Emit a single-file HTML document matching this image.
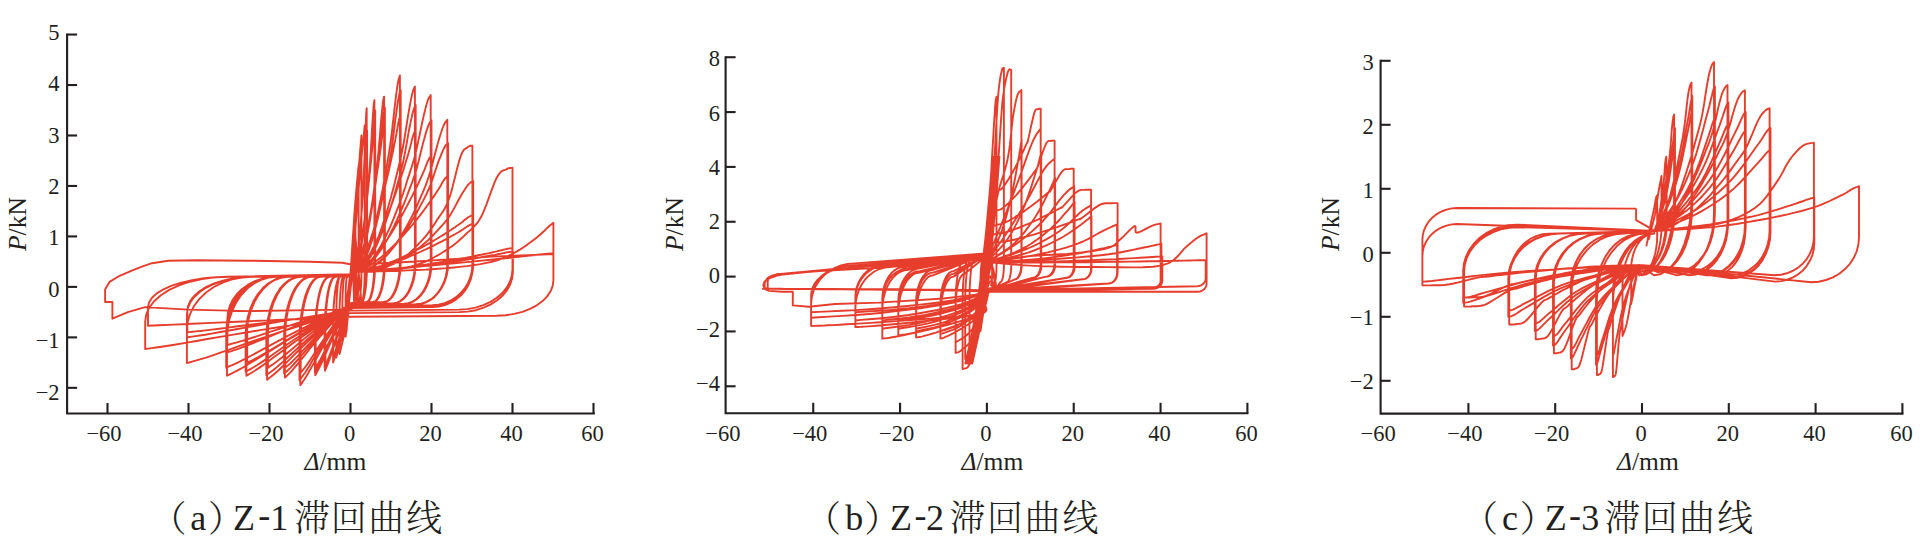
<!DOCTYPE html>
<html><head><meta charset="utf-8"><style>
html,body{margin:0;padding:0;background:#fff;}
svg{display:block;}
.tl{font-family:"Liberation Serif", "Times New Roman", serif;font-size:22.5px;fill:#231f20;}
.al{font-family:"Liberation Serif", "Times New Roman", serif;font-size:25.5px;fill:#231f20;}
.cap{font-family:"Liberation Serif",serif;font-size:36px;fill:#231f20;}
.cjk{font-family:"Liberation Serif","Noto Serif CJK SC",serif;font-size:36px;font-weight:300;fill:#231f20;}
</style></head><body>
<svg width="1924" height="557" viewBox="0 0 1924 557">
<rect width="1924" height="557" fill="#fff"/>
<path d="M67.10,33.45V413.50H594.85" fill="none" stroke="#231f20" stroke-width="2.1" stroke-linejoin="miter" stroke-linecap="butt"/>
<path d="M67.10,34.55H77.10" stroke="#231f20" stroke-width="2.1"/>
<text x="59.60" y="39.70" text-anchor="end" class="tl">5</text>
<path d="M67.10,85.02H77.10" stroke="#231f20" stroke-width="2.1"/>
<text x="59.60" y="91.10" text-anchor="end" class="tl">4</text>
<path d="M67.10,135.49H77.10" stroke="#231f20" stroke-width="2.1"/>
<text x="59.60" y="142.50" text-anchor="end" class="tl">3</text>
<path d="M67.10,185.96H77.10" stroke="#231f20" stroke-width="2.1"/>
<text x="59.60" y="193.90" text-anchor="end" class="tl">2</text>
<path d="M67.10,236.43H77.10" stroke="#231f20" stroke-width="2.1"/>
<text x="59.60" y="245.30" text-anchor="end" class="tl">1</text>
<path d="M67.10,286.90H77.10" stroke="#231f20" stroke-width="2.1"/>
<text x="59.60" y="296.70" text-anchor="end" class="tl">0</text>
<path d="M67.10,337.37H77.10" stroke="#231f20" stroke-width="2.1"/>
<text x="59.60" y="348.10" text-anchor="end" class="tl">−1</text>
<path d="M67.10,387.84H77.10" stroke="#231f20" stroke-width="2.1"/>
<text x="59.60" y="399.50" text-anchor="end" class="tl">−2</text>
<path d="M107.50,413.50V403.00" stroke="#231f20" stroke-width="2.1"/>
<text x="104.00" y="441.00" text-anchor="middle" class="tl">−60</text>
<path d="M188.50,413.50V403.00" stroke="#231f20" stroke-width="2.1"/>
<text x="185.00" y="441.00" text-anchor="middle" class="tl">−40</text>
<path d="M269.50,413.50V403.00" stroke="#231f20" stroke-width="2.1"/>
<text x="266.00" y="441.00" text-anchor="middle" class="tl">−20</text>
<path d="M350.50,413.50V403.00" stroke="#231f20" stroke-width="2.1"/>
<text x="349.50" y="441.00" text-anchor="middle" class="tl">0</text>
<path d="M431.50,413.50V403.00" stroke="#231f20" stroke-width="2.1"/>
<text x="430.50" y="441.00" text-anchor="middle" class="tl">20</text>
<path d="M512.50,413.50V403.00" stroke="#231f20" stroke-width="2.1"/>
<text x="511.50" y="441.00" text-anchor="middle" class="tl">40</text>
<path d="M593.50,413.50V403.00" stroke="#231f20" stroke-width="2.1"/>
<text x="592.50" y="441.00" text-anchor="middle" class="tl">60</text>
<path d="M725.60,56.25V413.30H1248.45" fill="none" stroke="#231f20" stroke-width="2.1" stroke-linejoin="miter" stroke-linecap="butt"/>
<path d="M725.60,57.24H735.60" stroke="#231f20" stroke-width="2.1"/>
<text x="720.00" y="66.40" text-anchor="end" class="tl">8</text>
<path d="M725.60,112.08H735.60" stroke="#231f20" stroke-width="2.1"/>
<text x="720.00" y="120.50" text-anchor="end" class="tl">6</text>
<path d="M725.60,166.92H735.60" stroke="#231f20" stroke-width="2.1"/>
<text x="720.00" y="174.60" text-anchor="end" class="tl">4</text>
<path d="M725.60,221.76H735.60" stroke="#231f20" stroke-width="2.1"/>
<text x="720.00" y="228.70" text-anchor="end" class="tl">2</text>
<path d="M725.60,276.60H735.60" stroke="#231f20" stroke-width="2.1"/>
<text x="720.00" y="282.80" text-anchor="end" class="tl">0</text>
<path d="M725.60,331.44H735.60" stroke="#231f20" stroke-width="2.1"/>
<text x="720.00" y="336.90" text-anchor="end" class="tl">−2</text>
<path d="M725.60,386.28H735.60" stroke="#231f20" stroke-width="2.1"/>
<text x="720.00" y="391.00" text-anchor="end" class="tl">−4</text>
<text x="722.91" y="440.80" text-anchor="middle" class="tl">−60</text>
<path d="M813.24,413.30V402.80" stroke="#231f20" stroke-width="2.1"/>
<text x="809.74" y="440.80" text-anchor="middle" class="tl">−40</text>
<path d="M900.07,413.30V402.80" stroke="#231f20" stroke-width="2.1"/>
<text x="896.57" y="440.80" text-anchor="middle" class="tl">−20</text>
<path d="M986.90,413.30V402.80" stroke="#231f20" stroke-width="2.1"/>
<text x="985.90" y="440.80" text-anchor="middle" class="tl">0</text>
<path d="M1073.73,413.30V402.80" stroke="#231f20" stroke-width="2.1"/>
<text x="1072.73" y="440.80" text-anchor="middle" class="tl">20</text>
<path d="M1160.56,413.30V402.80" stroke="#231f20" stroke-width="2.1"/>
<text x="1159.56" y="440.80" text-anchor="middle" class="tl">40</text>
<path d="M1247.39,413.30V402.80" stroke="#231f20" stroke-width="2.1"/>
<text x="1246.39" y="440.80" text-anchor="middle" class="tl">60</text>
<path d="M1380.60,59.75V413.60H1903.45" fill="none" stroke="#231f20" stroke-width="2.1" stroke-linejoin="miter" stroke-linecap="butt"/>
<path d="M1380.60,60.80H1390.60" stroke="#231f20" stroke-width="2.1"/>
<text x="1373.80" y="69.70" text-anchor="end" class="tl">3</text>
<path d="M1380.60,124.80H1390.60" stroke="#231f20" stroke-width="2.1"/>
<text x="1373.80" y="133.64" text-anchor="end" class="tl">2</text>
<path d="M1380.60,188.80H1390.60" stroke="#231f20" stroke-width="2.1"/>
<text x="1373.80" y="197.58" text-anchor="end" class="tl">1</text>
<path d="M1380.60,252.80H1390.60" stroke="#231f20" stroke-width="2.1"/>
<text x="1373.80" y="261.52" text-anchor="end" class="tl">0</text>
<path d="M1380.60,316.80H1390.60" stroke="#231f20" stroke-width="2.1"/>
<text x="1373.80" y="325.46" text-anchor="end" class="tl">−1</text>
<path d="M1380.60,380.80H1390.60" stroke="#231f20" stroke-width="2.1"/>
<text x="1373.80" y="389.40" text-anchor="end" class="tl">−2</text>
<text x="1378.10" y="441.10" text-anchor="middle" class="tl">−60</text>
<path d="M1468.40,413.60V403.10" stroke="#231f20" stroke-width="2.1"/>
<text x="1464.90" y="441.10" text-anchor="middle" class="tl">−40</text>
<path d="M1555.20,413.60V403.10" stroke="#231f20" stroke-width="2.1"/>
<text x="1551.70" y="441.10" text-anchor="middle" class="tl">−20</text>
<path d="M1642.00,413.60V403.10" stroke="#231f20" stroke-width="2.1"/>
<text x="1641.00" y="441.10" text-anchor="middle" class="tl">0</text>
<path d="M1728.80,413.60V403.10" stroke="#231f20" stroke-width="2.1"/>
<text x="1727.80" y="441.10" text-anchor="middle" class="tl">20</text>
<path d="M1815.60,413.60V403.10" stroke="#231f20" stroke-width="2.1"/>
<text x="1814.60" y="441.10" text-anchor="middle" class="tl">40</text>
<path d="M1902.40,413.60V403.10" stroke="#231f20" stroke-width="2.1"/>
<text x="1901.40" y="441.10" text-anchor="middle" class="tl">60</text>
<text transform="translate(25.5,251) rotate(-90)" class="al"><tspan font-style="italic">P</tspan>/kN</text>
<text transform="translate(683.3,251) rotate(-90)" class="al"><tspan font-style="italic">P</tspan>/kN</text>
<text transform="translate(1338.5,251) rotate(-90)" class="al"><tspan font-style="italic">P</tspan>/kN</text>
<text x="304.5" y="469.5" class="al"><tspan font-style="italic">Δ</tspan>/mm</text>
<text x="961.5" y="469.5" class="al"><tspan font-style="italic">Δ</tspan>/mm</text>
<text x="1617.0" y="469.5" class="al"><tspan font-style="italic">Δ</tspan>/mm</text>
<text x="150.4" y="532" class="cjk">（</text>
<text x="190.3" y="529.5" class="cap">a</text>
<text x="208.0" y="532" class="cjk">）</text>
<text x="233.0" y="529.5" class="cap">Z</text>
<text x="258.2" y="526.5" class="cap">-</text>
<text x="270.2" y="529.5" class="cap">1</text>
<text x="294.0 330.8 368.2 406.3" y="531" class="cjk">滞回曲线</text>
<text x="805.0" y="532" class="cjk">（</text>
<text x="845.2" y="529.5" class="cap">b</text>
<text x="864.3" y="532" class="cjk">）</text>
<text x="890.0" y="529.5" class="cap">Z</text>
<text x="914.4" y="526.5" class="cap">-</text>
<text x="926.0" y="529.5" class="cap">2</text>
<text x="949.5 987.0 1024.4 1062.5" y="531" class="cjk">滞回曲线</text>
<text x="1462.0" y="532" class="cjk">（</text>
<text x="1502.0" y="529.5" class="cap">c</text>
<text x="1519.7" y="532" class="cjk">）</text>
<text x="1544.7" y="529.5" class="cap">Z</text>
<text x="1569.0" y="526.5" class="cap">-</text>
<text x="1581.3" y="529.5" class="cap">3</text>
<text x="1604.2 1641.7 1679.1 1717.2" y="531" class="cjk">滞回曲线</text>
<path d="M348.1,312.1L348.4,307.4 348.8,300.8 349.3,293.0 349.9,284.6 350.5,276.4 351.0,269.0 351.5,262.0 352.0,255.0 352.5,248.0 353.0,241.5 353.5,235.6 353.9,230.6 354.2,226.7 354.5,223.5 354.8,221.0 355.0,219.1 355.2,217.5 355.4,216.2 355.4,281.9 355.4,281.9 355.3,285.0 355.3,288.1 355.2,291.0 355.1,293.7 355.0,296.1 354.9,298.2 354.7,299.8 354.5,301.1 354.3,301.8 354.1,302.0 352.9,266.7 352.6,269.7 352.2,273.9 351.7,278.8 351.1,284.1 350.5,289.3 350.0,294.0 349.5,298.4 349.0,302.8 348.5,307.2 348.0,311.3 347.5,315.1 347.1,318.2 346.8,320.7 346.5,322.7 346.2,324.2 346.0,325.5 345.8,326.5 345.6,327.3 345.6,297.0 345.6,297.0 345.7,293.8 345.7,290.8 345.8,287.8 345.9,285.1 346.1,282.7 346.3,280.7 346.5,279.0 346.8,277.8 347.0,277.1 347.3,276.8 352.5,274.3 M346.9,322.2L347.2,317.4 347.7,310.9 348.3,303.2 349.0,294.4 349.7,285.0 350.4,275.3 351.1,264.6 351.9,252.4 352.7,239.6 353.6,226.9 354.3,215.1 355.1,204.9 355.8,196.1 356.5,188.1 357.1,180.9 357.7,174.8 358.2,169.7 358.6,165.8 358.6,276.8 358.6,276.8 358.6,280.8 358.5,284.6 358.4,288.3 358.2,291.6 358.0,294.6 357.8,297.2 357.5,299.3 357.2,300.8 356.9,301.7 356.6,302.0 353.7,256.6 353.4,259.8 352.9,264.1 352.3,269.2 351.7,274.9 351.0,280.8 350.3,286.6 349.6,292.8 348.9,299.7 348.1,306.8 347.3,313.7 346.5,320.0 345.8,325.3 345.1,329.6 344.5,333.2 343.8,336.3 343.2,338.8 342.8,340.8 342.4,342.4 342.4,307.1 342.4,307.1 342.4,302.4 342.5,297.7 342.7,293.3 342.9,289.3 343.1,285.7 343.4,282.6 343.7,280.1 344.1,278.3 344.4,277.2 344.8,276.8 352.5,274.3 M346.4,332.3L346.9,326.7 347.6,319.2 348.3,310.2 349.2,300.0 350.1,288.9 350.9,277.2 351.9,264.2 352.9,249.5 353.9,233.9 355.0,218.3 356.0,203.6 356.9,190.6 357.8,179.0 358.7,167.9 359.6,157.6 360.3,148.6 361.0,141.1 361.4,135.5 361.4,271.8 361.4,271.8 361.4,276.5 361.3,281.1 361.1,285.5 360.8,289.6 360.5,293.2 360.1,296.3 359.7,298.7 359.2,300.6 358.7,301.7 358.2,302.0 354.6,246.5 354.1,250.5 353.4,255.9 352.7,262.3 351.8,269.4 350.9,276.8 350.1,284.1 349.1,291.9 348.1,300.5 347.1,309.3 346.0,318.0 345.0,325.9 344.1,332.5 343.2,337.9 342.3,342.5 341.4,346.3 340.7,349.4 340.0,352.0 339.6,354.0 339.6,317.2 339.6,317.2 339.6,310.9 339.7,304.7 340.0,298.9 340.3,293.4 340.6,288.6 341.1,284.5 341.6,281.2 342.1,278.8 342.6,277.3 343.2,276.8 352.5,274.3 M345.6,337.4L346.2,331.3 347.1,323.2 348.0,313.5 349.1,302.5 350.2,290.6 351.4,278.0 352.5,264.0 353.8,248.2 355.2,231.4 356.5,214.6 357.8,198.7 359.0,184.7 360.1,172.2 361.2,160.3 362.3,149.2 363.3,139.5 364.1,131.5 364.7,125.4 364.7,271.8 364.7,271.8 364.6,276.5 364.5,281.1 364.3,285.5 364.1,289.6 363.7,293.2 363.3,296.3 362.9,298.7 362.4,300.6 361.9,301.7 361.4,302.0 355.4,236.4 354.8,240.9 353.9,247.0 353.0,254.2 351.9,262.2 350.8,270.6 349.6,278.8 348.5,287.6 347.2,297.2 345.8,307.2 344.5,317.0 343.2,325.9 342.0,333.3 340.9,339.4 339.8,344.5 338.7,348.9 337.7,352.4 336.9,355.3 336.3,357.6 336.3,317.2 336.3,317.2 336.4,310.9 336.5,304.7 336.7,298.9 337.0,293.4 337.4,288.6 337.8,284.5 338.3,281.2 338.8,278.8 339.4,277.3 340.0,276.8 352.5,274.3 M354.6,271.8L354.7,271.3 355.0,270.7 355.3,269.9 355.7,269.0 356.0,267.8 356.4,266.4 356.7,264.7 357.0,262.8 357.3,260.6 357.6,258.3 357.9,255.7 358.2,253.0 358.5,250.1 358.8,247.1 359.1,243.8 359.4,240.3 359.7,236.7 360.0,232.9 360.3,228.8 360.6,224.4 361.0,219.8 361.3,215.2 361.6,210.7 361.8,206.6 362.1,202.8 362.3,199.3 362.5,195.9 362.7,192.6 362.9,189.3 363.1,185.7 363.3,182.1 363.5,178.4 363.7,174.7 363.9,170.9 364.1,166.8 364.3,162.3 364.5,157.3 364.7,151.6 364.9,145.7 365.1,139.8 365.3,134.4 365.5,129.9 365.6,126.1 365.8,122.9 365.9,120.1 366.0,117.7 366.1,115.5 366.2,113.6 366.3,112.1 366.4,110.8 366.5,109.9 366.6,109.2 366.6,108.7 366.7,108.2 366.7,261.7 366.7,261.7 366.6,268.0 366.4,274.1 366.1,280.0 365.7,285.4 365.1,290.2 364.5,294.3 363.8,297.6 363.0,300.1 362.2,301.5 361.4,302.0 350.5,303.1 350.4,303.3 350.2,303.6 350.1,303.9 349.8,304.6 349.4,305.9 348.8,307.8 347.9,310.7 346.8,314.4 345.5,318.6 344.2,323.1 343.0,327.5 341.8,331.6 340.7,335.6 339.6,339.8 338.5,343.9 337.4,347.8 336.5,351.3 335.7,354.3 335.0,356.6 334.5,358.4 334.0,359.9 333.6,361.0 333.3,361.9 333.1,362.6 333.1,330.0 333.1,330.0 333.2,321.7 333.4,313.6 333.8,305.9 334.4,298.7 335.1,292.4 336.0,287.0 336.9,282.6 337.9,279.4 339.0,277.5 340.1,276.8 352.5,274.3 M354.6,271.8L354.9,271.2 355.3,270.6 355.9,269.8 356.4,268.8 357.0,267.6 357.5,266.1 358.0,264.3 358.5,262.3 359.0,260.1 359.5,257.6 360.0,255.0 360.5,252.1 361.0,249.1 361.5,245.8 362.0,242.4 362.5,238.8 363.0,235.0 363.5,231.0 364.0,226.7 364.5,222.0 365.0,217.2 365.5,212.4 366.0,207.7 366.5,203.3 366.8,199.4 367.2,195.7 367.5,192.2 367.8,188.7 368.1,185.2 368.4,181.5 368.8,177.6 369.1,173.8 369.4,170.0 369.8,165.9 370.1,161.6 370.4,156.9 370.8,151.6 371.1,145.6 371.5,139.4 371.8,133.3 372.1,127.7 372.4,122.9 372.7,118.9 372.9,115.5 373.1,112.6 373.3,110.0 373.4,107.8 373.6,105.8 373.8,104.2 373.9,102.9 374.1,101.9 374.2,101.2 374.3,100.6 374.4,100.2 374.4,261.7 374.4,261.7 374.3,268.0 374.0,274.1 373.5,280.0 372.9,285.4 372.1,290.2 371.1,294.3 370.1,297.6 368.9,300.1 367.7,301.5 366.5,302.0 350.5,303.1 350.3,303.4 350.1,303.7 349.9,304.1 349.5,304.9 348.8,306.2 347.9,308.5 346.7,311.7 345.1,315.9 343.2,320.7 341.3,325.8 339.5,330.8 337.7,335.5 336.1,340.1 334.5,344.8 332.9,349.5 331.4,353.9 330.0,357.9 328.8,361.2 327.8,363.8 327.0,365.9 326.3,367.6 325.8,368.8 325.3,369.8 325.0,370.7 325.0,335.0 325.0,335.0 325.1,325.9 325.5,317.0 326.1,308.6 326.9,300.8 328.0,293.9 329.2,287.9 330.6,283.1 332.0,279.7 333.6,277.5 335.2,276.8 352.5,274.3 M354.6,271.8L355.0,271.2 355.7,270.6 356.5,269.8 357.3,268.8 358.2,267.5 359.0,266.0 359.7,264.2 360.5,262.1 361.2,259.8 361.9,257.3 362.7,254.6 363.4,251.7 364.2,248.6 364.9,245.3 365.6,241.8 366.4,238.1 367.1,234.2 367.9,230.2 368.6,225.8 369.4,221.0 370.2,216.1 370.9,211.1 371.6,206.4 372.3,201.9 372.9,197.9 373.4,194.2 373.9,190.6 374.3,187.0 374.8,183.4 375.2,179.6 375.7,175.7 376.2,171.8 376.7,167.9 377.2,163.7 377.7,159.3 378.2,154.6 378.7,149.1 379.2,143.0 379.8,136.7 380.3,130.5 380.7,124.7 381.2,119.8 381.5,115.8 381.9,112.3 382.2,109.3 382.4,106.7 382.7,104.4 382.9,102.4 383.2,100.7 383.4,99.4 383.6,98.4 383.8,97.7 384.0,97.1 384.1,96.6 384.1,261.7 384.1,261.7 384.0,268.0 383.6,274.1 382.9,280.0 382.0,285.4 380.9,290.2 379.5,294.3 378.1,297.6 376.4,300.1 374.8,301.5 373.0,302.0 350.5,303.1 350.2,303.4 350.0,303.7 349.6,304.1 349.1,305.0 348.2,306.5 347.0,308.8 345.2,312.3 343.0,316.8 340.5,321.9 337.8,327.3 335.3,332.7 332.9,337.7 330.6,342.5 328.4,347.6 326.2,352.6 324.1,357.3 322.2,361.6 320.6,365.1 319.2,367.9 318.1,370.1 317.1,371.9 316.4,373.2 315.8,374.3 315.3,375.2 315.3,337.8 315.3,337.8 315.4,328.3 316.0,319.0 316.8,310.1 318.0,302.0 319.4,294.7 321.1,288.5 323.0,283.5 325.0,279.8 327.2,277.6 329.4,276.8 352.5,274.3 M354.6,271.8L355.3,271.2 356.3,270.4 357.5,269.5 358.8,268.4 360.1,267.0 361.4,265.3 362.5,263.3 363.6,261.0 364.8,258.4 365.9,255.6 367.0,252.5 368.2,249.3 369.3,245.8 370.4,242.1 371.6,238.2 372.7,234.0 373.8,229.7 375.0,225.1 376.1,220.2 377.3,214.9 378.5,209.4 379.7,203.8 380.8,198.5 381.8,193.5 382.7,189.0 383.4,184.8 384.2,180.7 384.9,176.8 385.6,172.7 386.3,168.4 387.1,164.1 387.8,159.7 388.6,155.3 389.3,150.7 390.1,145.7 390.8,140.4 391.6,134.3 392.4,127.5 393.2,120.4 394.0,113.4 394.7,106.9 395.4,101.4 395.9,96.9 396.4,93.0 396.9,89.6 397.3,86.7 397.7,84.2 398.1,81.9 398.5,80.0 398.8,78.6 399.2,77.5 399.5,76.6 399.7,76.0 399.9,75.4 399.9,261.7 399.9,261.7 399.7,268.0 399.1,274.1 398.1,280.0 396.8,285.4 395.1,290.2 393.2,294.3 391.0,297.6 388.6,300.1 386.2,301.5 383.6,302.0 350.5,303.1 350.1,303.5 349.8,303.8 349.2,304.3 348.5,305.2 347.2,306.9 345.5,309.6 343.0,313.6 339.8,318.7 336.2,324.5 332.5,330.7 328.8,336.8 325.4,342.5 322.2,348.1 319.0,353.8 315.8,359.5 312.8,364.9 310.1,369.8 307.8,373.8 305.9,377.0 304.3,379.5 302.9,381.5 301.9,383.1 301.0,384.3 300.3,385.3 300.3,344.1 300.3,344.1 300.5,333.6 301.3,323.3 302.5,313.5 304.1,304.5 306.2,296.5 308.6,289.7 311.2,284.1 314.2,280.1 317.2,277.6 320.4,276.8 352.5,274.3 M354.6,271.8L355.5,271.2 356.9,270.5 358.5,269.7 360.2,268.6 362.0,267.3 363.6,265.7 365.1,263.8 366.6,261.6 368.1,259.2 369.6,256.5 371.1,253.6 372.7,250.6 374.2,247.3 375.7,243.8 377.2,240.1 378.7,236.2 380.2,232.1 381.7,227.8 383.2,223.1 384.8,218.1 386.4,212.9 388.0,207.7 389.4,202.6 390.8,197.9 391.9,193.6 393.0,189.7 394.0,185.9 394.9,182.1 395.8,178.3 396.8,174.3 397.8,170.2 398.8,166.1 399.8,161.9 400.8,157.5 401.8,152.8 402.8,147.8 403.9,142.1 404.9,135.6 406.0,128.9 407.0,122.3 408.0,116.2 408.9,111.0 409.6,106.8 410.3,103.1 410.9,99.9 411.5,97.2 412.0,94.8 412.5,92.7 413.0,90.9 413.5,89.5 413.9,88.4 414.3,87.7 414.6,87.1 414.9,86.5 414.9,262.7 414.9,262.7 414.6,269.0 413.9,275.2 412.6,281.0 410.8,286.4 408.7,291.2 406.1,295.3 403.3,298.6 400.2,301.1 397.0,302.6 393.6,303.1 350.5,304.1 350.0,304.4 349.5,304.7 348.9,305.2 347.8,306.0 346.2,307.5 343.9,310.0 340.7,313.5 336.5,318.1 331.8,323.3 326.9,328.8 322.1,334.3 317.7,339.4 313.5,344.4 309.3,349.5 305.2,354.6 301.3,359.5 297.8,363.8 294.7,367.4 292.2,370.3 290.1,372.6 288.4,374.3 287.0,375.7 285.8,376.8 284.9,377.7 284.9,339.4 284.9,339.4 285.2,329.6 286.2,320.0 287.8,311.0 289.9,302.6 292.6,295.1 295.7,288.8 299.2,283.6 303.0,279.9 307.0,277.6 311.1,276.8 352.5,274.3 M354.6,271.8L355.8,271.2 357.5,270.6 359.5,269.8 361.7,268.7 363.9,267.5 366.0,266.0 367.9,264.1 369.8,262.1 371.7,259.7 373.6,257.2 375.5,254.5 377.4,251.5 379.3,248.4 381.2,245.1 383.1,241.5 385.0,237.8 386.9,233.9 388.8,229.8 390.8,225.4 392.8,220.6 394.8,215.6 396.7,210.6 398.6,205.8 400.2,201.3 401.7,197.3 403.1,193.5 404.3,189.9 405.5,186.3 406.6,182.6 407.8,178.8 409.1,174.9 410.4,170.9 411.7,167.0 412.9,162.8 414.2,158.4 415.5,153.5 416.8,148.1 418.1,141.9 419.5,135.5 420.8,129.2 422.0,123.4 423.1,118.5 424.0,114.4 424.9,110.9 425.6,107.9 426.3,105.3 427.0,103.0 427.6,101.0 428.3,99.2 428.9,97.9 429.5,96.9 430.0,96.2 430.4,95.6 430.7,95.1 430.7,263.2 430.7,263.2 430.4,269.5 429.4,275.7 427.8,281.5 425.6,286.9 422.9,291.7 419.8,295.8 416.2,299.2 412.4,301.6 408.4,303.1 404.2,303.6 350.5,304.6 349.9,304.9 349.3,305.2 348.4,305.7 347.1,306.6 345.1,308.1 342.2,310.6 338.0,314.2 332.7,318.9 326.8,324.2 320.5,329.9 314.4,335.5 308.8,340.7 303.5,345.7 298.1,351.0 292.9,356.2 287.9,361.1 283.4,365.5 279.6,369.2 276.4,372.2 273.7,374.5 271.5,376.3 269.7,377.7 268.2,378.8 267.1,379.8 267.1,340.6 267.1,340.6 267.5,330.7 268.7,320.9 270.7,311.7 273.4,303.1 276.8,295.5 280.8,289.0 285.3,283.8 290.1,279.9 295.2,277.6 300.4,276.8 352.5,274.3 M354.6,271.8L356.1,271.5 358.2,271.3 360.6,270.9 363.3,270.5 366.0,269.8 368.5,268.9 370.8,267.8 373.1,266.6 375.4,265.1 377.7,263.5 380.1,261.7 382.4,259.6 384.7,257.4 387.0,255.0 389.3,252.4 391.6,249.6 394.0,246.6 396.3,243.4 398.7,239.8 401.1,235.9 403.5,231.8 405.9,227.6 408.1,223.6 410.2,219.8 412.0,216.3 413.6,213.0 415.1,209.8 416.6,206.7 418.0,203.4 419.5,199.9 421.0,196.4 422.6,192.8 424.1,189.2 425.7,185.4 427.2,181.2 428.7,176.7 430.3,171.4 432.0,165.5 433.6,159.2 435.2,153.1 436.7,147.4 438.0,142.6 439.2,138.6 440.2,135.2 441.2,132.3 442.0,129.7 442.8,127.5 443.6,125.5 444.4,123.9 445.1,122.6 445.8,121.6 446.4,120.9 446.9,120.3 447.3,119.8 447.3,264.2 447.3,264.2 446.9,270.5 445.7,276.7 443.8,282.5 441.2,287.9 437.9,292.7 434.1,296.9 429.9,300.2 425.2,302.6 420.3,304.1 415.4,304.6 350.5,305.6 349.7,305.9 349.0,306.2 347.9,306.6 346.3,307.4 343.8,308.9 340.1,311.2 334.9,314.6 328.3,318.9 320.9,323.9 313.1,329.2 305.5,334.4 298.5,339.2 291.8,344.0 285.2,348.9 278.6,353.7 272.4,358.3 266.8,362.5 262.0,365.9 258.0,368.6 254.7,370.8 251.9,372.5 249.7,373.8 247.9,374.9 246.4,375.7 246.4,338.1 246.4,338.1 246.9,328.5 248.5,319.2 251.0,310.3 254.4,302.1 258.6,294.8 263.6,288.5 269.1,283.5 275.2,279.8 281.5,277.6 288.0,276.8 352.5,274.3 M354.6,271.8L356.5,271.7 359.1,271.6 362.3,271.5 365.7,271.4 369.1,271.1 372.2,270.7 375.2,270.1 378.1,269.5 381.1,268.7 384.0,267.8 387.0,266.8 389.9,265.5 392.9,264.1 395.8,262.6 398.7,260.9 401.7,259.0 404.6,256.9 407.6,254.6 410.6,252.0 413.7,249.1 416.8,245.9 419.8,242.7 422.7,239.6 425.3,236.6 427.6,233.8 429.6,231.1 431.5,228.5 433.3,225.8 435.2,223.0 437.0,220.0 439.0,217.1 441.0,214.3 442.9,211.4 444.9,208.2 446.9,204.3 448.8,199.5 450.9,193.3 452.9,185.6 455.0,177.2 457.0,169.1 458.9,161.9 460.6,156.4 462.1,152.8 463.4,150.5 464.6,149.2 465.7,148.4 466.7,147.9 467.7,147.2 468.7,146.5 469.6,146.0 470.5,145.8 471.3,145.7 471.9,145.7 472.4,145.6 472.4,264.7 472.4,264.7 471.9,271.0 470.4,277.2 468.0,283.0 464.7,288.4 460.6,293.2 455.8,297.4 450.4,300.7 444.6,303.1 438.5,304.6 432.2,305.1 350.5,306.1 349.6,306.4 348.7,306.7 347.4,307.1 345.5,307.9 342.5,309.4 338.1,311.7 332.0,315.0 324.2,319.3 315.4,324.3 306.1,329.5 297.0,334.7 288.7,339.5 280.9,344.2 273.0,349.1 265.2,353.9 257.9,358.4 251.2,362.5 245.5,366.0 240.8,368.7 236.8,370.8 233.5,372.5 230.9,373.8 228.7,374.9 227.0,375.7 227.0,338.1 227.0,338.1 227.6,328.5 229.4,319.2 232.4,310.3 236.4,302.1 241.4,294.8 247.3,288.5 254.0,283.5 261.1,279.8 268.7,277.6 276.4,276.8 352.5,274.3 M354.6,271.8L357.1,271.7 360.7,271.7 364.9,271.7 369.5,271.7 374.0,271.5 378.2,271.3 382.2,271.1 386.1,270.8 390.1,270.4 394.0,269.9 398.0,269.3 401.9,268.6 405.9,267.7 409.8,266.8 413.8,265.7 417.7,264.5 421.7,263.1 425.6,261.5 429.7,259.6 433.8,257.5 438.0,255.2 442.0,252.8 445.8,250.4 449.3,248.1 452.4,245.9 455.2,243.8 457.7,241.7 460.1,239.5 462.6,237.3 465.1,234.8 467.7,232.4 470.4,230.1 473.0,227.7 475.6,224.9 478.3,221.6 480.9,217.3 483.6,211.6 486.4,204.6 489.2,196.9 491.9,189.4 494.4,182.8 496.7,177.7 498.7,174.4 500.4,172.3 502.0,171.1 503.5,170.4 504.9,169.9 506.2,169.3 507.5,168.6 508.8,168.2 509.9,168.0 511.0,167.9 511.8,167.9 512.5,167.8 512.5,269.2 512.5,269.2 511.8,275.6 509.9,281.7 506.7,287.6 502.3,293.0 496.8,297.8 490.5,301.9 483.3,305.2 475.6,307.6 467.4,309.1 459.0,309.6 350.5,310.6 349.3,310.9 348.1,311.1 346.4,311.4 343.8,312.0 339.9,313.1 334.1,314.8 326.0,317.4 315.7,320.6 304.0,324.3 291.7,328.3 279.7,332.2 268.7,335.8 258.3,339.3 247.8,343.0 237.5,346.6 227.8,350.1 219.0,353.2 211.4,355.8 205.2,357.8 199.9,359.4 195.6,360.7 192.0,361.7 189.2,362.5 186.9,363.1 186.9,330.3 186.9,330.3 187.7,321.9 190.1,313.8 194.0,306.0 199.4,298.9 206.0,292.5 213.9,287.0 222.6,282.6 232.1,279.4 242.1,277.5 252.3,276.8 352.5,274.3 M354.6,271.8L359.3,271.7 365.8,271.6 373.5,271.4 382.0,271.3 390.7,271.0 399.1,270.7 407.5,270.4 416.5,270.0 425.7,269.6 434.8,269.0 443.6,268.4 451.8,267.7 459.4,266.9 466.8,266.1 473.8,265.1 480.4,264.1 486.6,262.9 492.2,261.7 497.3,260.3 501.7,258.7 505.7,257.1 509.4,255.4 512.9,253.5 516.5,251.6 520.3,249.4 523.9,247.0 527.4,244.6 530.8,242.1 533.9,239.7 536.8,237.4 539.4,235.3 541.7,233.2 543.9,231.2 545.8,229.4 547.5,227.7 549.0,226.3 550.2,225.3 551.2,224.5 551.9,223.9 552.5,223.4 553.0,223.1 553.4,222.8 553.4,280.3 553.4,280.3 552.7,285.9 550.6,291.3 547.2,296.4 542.6,301.1 536.8,305.3 530.0,308.9 522.4,311.8 514.2,313.9 505.6,315.2 496.7,315.7 350.5,316.7 349.0,316.8 347.5,317.0 345.4,317.2 342.1,317.5 337.2,318.2 330.0,319.3 319.7,320.8 306.8,322.8 292.1,325.1 276.7,327.5 261.6,329.9 247.8,332.2 234.8,334.4 221.6,336.6 208.7,338.8 196.5,341.0 185.4,342.9 176.0,344.5 168.1,345.7 161.5,346.7 156.1,347.5 151.6,348.1 148.0,348.6 145.2,349.0 145.2,321.6 145.2,321.6 146.2,314.6 149.2,307.7 154.1,301.2 160.9,295.3 169.2,289.9 179.0,285.4 190.0,281.7 201.9,279.0 214.5,277.4 227.3,276.8 352.5,274.3 M354.6,271.8L354.8,270.9 355.0,269.9 355.4,268.6 355.7,267.1 356.1,265.4 356.4,263.5 356.7,261.5 357.1,259.2 357.4,256.7 357.7,254.1 358.0,251.4 358.3,248.5 358.6,245.6 358.9,242.5 359.3,239.3 359.6,236.0 359.9,232.6 360.2,229.1 360.5,225.4 360.9,221.5 361.2,217.4 361.5,213.4 361.8,209.6 362.1,206.1 362.3,202.9 362.5,200.0 362.7,197.2 362.9,194.6 363.1,191.8 363.3,189.0 363.5,186.0 363.8,183.0 364.0,180.0 364.2,176.9 364.4,173.8 364.6,170.6 364.8,167.3 365.0,163.8 365.3,160.3 365.5,156.9 365.7,153.6 365.8,150.5 366.0,147.8 366.1,145.1 366.3,142.6 366.4,140.3 366.5,138.3 366.6,136.5 366.7,134.9 366.8,133.6 366.9,132.6 367.0,131.7 367.1,131.0 367.1,130.4 367.1,261.7 367.1,261.7 367.0,268.0 366.8,274.1 366.5,280.0 366.1,285.4 365.5,290.2 364.8,294.3 364.1,297.6 363.3,300.1 362.5,301.5 361.6,302.0 350.5,303.1 350.4,303.3 350.2,303.5 350.1,303.9 349.8,304.5 349.4,305.6 348.8,307.4 347.9,310.0 346.8,313.4 345.5,317.3 344.2,321.4 343.0,325.4 341.8,329.2 340.7,332.9 339.6,336.7 338.5,340.5 337.4,344.0 336.5,347.2 335.7,349.9 335.0,352.0 334.5,353.7 334.0,355.0 333.6,356.1 333.3,356.9 333.1,357.6 333.1,326.9 333.1,326.9 333.2,319.0 333.4,311.4 333.8,304.1 334.4,297.4 335.1,291.5 336.0,286.4 336.9,282.3 337.9,279.3 339.0,277.4 340.1,276.8 352.5,274.3 M354.6,271.8L354.9,270.9 355.3,269.7 355.9,268.4 356.5,266.8 357.0,265.0 357.6,263.0 358.1,260.8 358.6,258.3 359.1,255.7 359.6,252.9 360.1,249.9 360.6,246.9 361.1,243.7 361.6,240.4 362.1,237.0 362.6,233.5 363.2,229.8 363.7,226.1 364.2,222.1 364.7,217.9 365.2,213.6 365.8,209.3 366.3,205.2 366.7,201.4 367.1,198.0 367.4,194.9 367.8,191.9 368.1,189.1 368.4,186.1 368.7,183.1 369.1,179.9 369.4,176.7 369.7,173.5 370.1,170.2 370.4,166.8 370.8,163.4 371.1,159.9 371.5,156.1 371.8,152.4 372.2,148.7 372.5,145.1 372.8,141.9 373.0,138.9 373.3,136.1 373.5,133.4 373.6,131.0 373.8,128.7 374.0,126.8 374.2,125.2 374.3,123.8 374.5,122.6 374.6,121.7 374.7,121.0 374.8,120.3 374.8,261.7 374.8,261.7 374.7,268.0 374.4,274.1 373.9,280.0 373.3,285.4 372.5,290.2 371.5,294.3 370.4,297.6 369.3,300.1 368.0,301.5 366.8,302.0 350.5,303.1 350.3,303.4 350.1,303.6 349.9,304.0 349.5,304.7 348.9,306.0 348.0,308.0 346.7,311.0 345.2,314.9 343.4,319.3 341.5,323.9 339.6,328.6 337.9,332.8 336.3,337.0 334.7,341.4 333.2,345.7 331.7,349.7 330.3,353.4 329.2,356.4 328.2,358.8 327.4,360.8 326.7,362.3 326.2,363.4 325.7,364.4 325.4,365.1 325.4,331.6 325.4,331.6 325.5,323.0 325.9,314.6 326.5,306.7 327.3,299.4 328.3,292.8 329.5,287.3 330.9,282.8 332.3,279.5 333.9,277.5 335.4,276.8 352.5,274.3 M354.6,271.8L355.0,270.9 355.7,269.7 356.5,268.4 357.4,266.8 358.2,265.0 359.0,263.0 359.8,260.8 360.5,258.3 361.3,255.7 362.0,252.9 362.8,249.9 363.5,246.9 364.3,243.7 365.0,240.4 365.8,237.0 366.5,233.5 367.3,229.8 368.0,226.1 368.8,222.1 369.6,217.9 370.4,213.6 371.1,209.3 371.9,205.2 372.5,201.4 373.1,198.0 373.6,194.9 374.1,191.9 374.6,189.1 375.0,186.1 375.5,183.1 376.0,179.9 376.5,176.7 377.0,173.5 377.5,170.2 378.0,166.8 378.5,163.4 379.0,159.9 379.6,156.1 380.1,152.4 380.6,148.7 381.1,145.1 381.5,141.9 381.9,138.9 382.2,136.1 382.5,133.4 382.8,131.0 383.1,128.7 383.3,126.8 383.6,125.2 383.8,123.8 384.0,122.6 384.2,121.7 384.4,121.0 384.5,120.3 384.5,261.7 384.5,261.7 384.4,268.0 384.0,274.1 383.3,280.0 382.4,285.4 381.2,290.2 379.9,294.3 378.4,297.6 376.8,300.1 375.0,301.5 373.3,302.0 350.5,303.1 350.2,303.4 350.0,303.6 349.6,304.0 349.1,304.8 348.2,306.1 347.0,308.2 345.3,311.3 343.1,315.3 340.6,319.9 338.0,324.8 335.4,329.6 333.1,334.1 330.9,338.4 328.6,342.9 326.4,347.4 324.4,351.6 322.5,355.4 320.9,358.6 319.6,361.1 318.4,363.1 317.5,364.7 316.8,365.9 316.2,366.8 315.7,367.7 315.7,333.1 315.7,333.1 315.8,324.3 316.4,315.7 317.2,307.6 318.3,300.0 319.8,293.3 321.4,287.6 323.3,282.9 325.3,279.6 327.4,277.5 329.6,276.8 352.5,274.3 M354.6,271.8L355.3,270.9 356.3,269.7 357.6,268.3 358.9,266.6 360.2,264.7 361.4,262.7 362.6,260.4 363.7,257.9 364.8,255.1 366.0,252.2 367.1,249.2 368.3,246.1 369.4,242.8 370.6,239.4 371.7,235.8 372.9,232.2 374.0,228.4 375.1,224.5 376.3,220.4 377.5,216.1 378.7,211.6 379.9,207.2 381.0,203.0 382.0,199.0 382.9,195.5 383.7,192.3 384.4,189.3 385.1,186.3 385.8,183.3 386.6,180.1 387.3,176.8 388.1,173.5 388.9,170.2 389.6,166.8 390.4,163.3 391.2,159.8 391.9,156.1 392.8,152.3 393.6,148.4 394.3,144.5 395.1,140.9 395.7,137.6 396.3,134.5 396.8,131.5 397.3,128.8 397.7,126.3 398.1,124.0 398.5,122.0 398.9,120.3 399.2,118.8 399.6,117.7 399.9,116.7 400.1,115.9 400.3,115.3 400.3,261.7 400.3,261.7 400.1,268.0 399.5,274.1 398.5,280.0 397.2,285.4 395.5,290.2 393.5,294.3 391.3,297.6 389.0,300.1 386.4,301.5 383.9,302.0 350.5,303.1 350.1,303.4 349.8,303.7 349.3,304.1 348.5,304.9 347.3,306.3 345.5,308.6 343.0,312.0 339.9,316.3 336.3,321.2 332.6,326.5 328.9,331.7 325.6,336.5 322.4,341.2 319.2,346.0 316.1,350.8 313.1,355.4 310.5,359.5 308.2,362.9 306.2,365.7 304.7,367.8 303.3,369.5 302.3,370.8 301.4,371.8 300.7,372.7 300.7,336.3 300.7,336.3 300.9,327.0 301.7,317.9 302.9,309.3 304.5,301.3 306.5,294.2 308.9,288.2 311.6,283.3 314.5,279.7 317.5,277.5 320.6,276.8 352.5,274.3 M354.6,271.8L355.5,270.9 356.9,269.9 358.5,268.6 360.3,267.1 362.0,265.4 363.7,263.5 365.2,261.5 366.7,259.2 368.2,256.7 369.7,254.1 371.3,251.4 372.8,248.5 374.3,245.6 375.8,242.5 377.3,239.3 378.8,236.0 380.4,232.6 381.9,229.1 383.4,225.4 385.0,221.5 386.6,217.4 388.2,213.4 389.7,209.6 391.0,206.1 392.2,202.9 393.2,200.0 394.2,197.2 395.2,194.6 396.1,191.8 397.1,189.0 398.1,186.0 399.1,183.0 400.1,180.0 401.1,176.9 402.1,173.8 403.2,170.6 404.2,167.3 405.3,163.8 406.3,160.3 407.4,156.9 408.4,153.6 409.2,150.5 410.0,147.8 410.7,145.1 411.3,142.6 411.8,140.3 412.4,138.3 412.9,136.5 413.4,134.9 413.9,133.6 414.3,132.6 414.7,131.7 415.0,131.0 415.3,130.4 415.3,262.7 415.3,262.7 415.0,269.0 414.3,275.2 413.0,281.0 411.2,286.4 409.0,291.2 406.5,295.3 403.6,298.6 400.5,301.1 397.3,302.6 393.9,303.1 350.5,304.1 350.0,304.4 349.5,304.6 348.9,305.0 347.8,305.8 346.3,307.1 344.0,309.1 340.7,312.2 336.6,316.2 332.0,320.7 327.1,325.4 322.3,330.2 317.9,334.6 313.8,338.9 309.6,343.3 305.5,347.7 301.6,351.9 298.1,355.6 295.1,358.7 292.6,361.2 290.5,363.2 288.8,364.7 287.3,365.9 286.2,366.9 285.3,367.7 285.3,333.1 285.3,333.1 285.6,324.3 286.6,315.7 288.1,307.6 290.3,300.0 292.9,293.3 296.0,287.6 299.5,282.9 303.3,279.6 307.3,277.5 311.4,276.8 352.5,274.3 M354.6,271.8L355.8,271.1 357.5,270.2 359.6,269.2 361.8,267.9 364.0,266.5 366.0,265.0 367.9,263.3 369.9,261.5 371.8,259.4 373.7,257.3 375.6,255.0 377.5,252.7 379.4,250.3 381.3,247.7 383.3,245.1 385.2,242.4 387.1,239.6 389.0,236.7 391.0,233.7 393.0,230.5 395.0,227.1 396.9,223.9 398.8,220.7 400.5,217.8 402.0,215.2 403.3,212.8 404.5,210.6 405.7,208.3 406.9,206.1 408.1,203.8 409.4,201.3 410.7,198.9 412.0,196.4 413.2,193.9 414.5,191.3 415.8,188.7 417.1,186.0 418.5,183.1 419.8,180.2 421.1,177.4 422.3,174.7 423.4,172.2 424.4,169.9 425.3,167.7 426.0,165.7 426.7,163.8 427.4,162.1 428.0,160.6 428.7,159.4 429.3,158.3 429.9,157.4 430.4,156.7 430.8,156.1 431.1,155.7 431.1,263.2 431.1,263.2 430.8,269.5 429.8,275.7 428.2,281.5 426.0,286.9 423.3,291.7 420.1,295.8 416.6,299.2 412.7,301.6 408.7,303.1 404.5,303.6 350.5,304.6 349.9,304.9 349.3,305.1 348.4,305.5 347.1,306.2 345.1,307.5 342.2,309.6 338.1,312.7 332.9,316.6 327.0,321.0 320.8,325.8 314.7,330.5 309.2,334.8 303.9,339.1 298.6,343.5 293.4,347.9 288.5,352.0 284.1,355.7 280.3,358.8 277.1,361.3 274.5,363.2 272.3,364.7 270.5,365.9 269.0,366.9 267.9,367.7 267.9,333.1 267.9,333.1 268.3,324.3 269.5,315.7 271.5,307.6 274.2,300.0 277.6,293.3 281.5,287.6 285.9,282.9 290.7,279.6 295.8,277.5 300.9,276.8 352.5,274.3 M354.6,271.8L356.1,271.2 358.2,270.5 360.7,269.6 363.3,268.6 366.0,267.4 368.5,266.2 370.9,264.8 373.2,263.2 375.5,261.6 377.8,259.8 380.2,257.9 382.5,256.0 384.8,254.0 387.2,251.9 389.5,249.7 391.8,247.5 394.1,245.2 396.5,242.8 398.9,240.3 401.3,237.6 403.7,234.9 406.1,232.2 408.4,229.6 410.4,227.2 412.3,225.0 413.9,223.1 415.4,221.2 416.8,219.4 418.3,217.5 419.8,215.6 421.3,213.6 422.9,211.6 424.4,209.5 426.0,207.4 427.5,205.3 429.1,203.1 430.7,200.9 432.3,198.5 434.0,196.1 435.6,193.8 437.0,191.6 438.4,189.5 439.6,187.6 440.6,185.8 441.5,184.1 442.4,182.6 443.2,181.2 444.0,180.0 444.7,178.9 445.5,178.0 446.2,177.3 446.8,176.7 447.3,176.2 447.7,175.9 447.7,264.2 447.7,264.2 447.3,270.5 446.1,276.7 444.2,282.5 441.6,287.9 438.3,292.7 434.5,296.9 430.2,300.2 425.5,302.6 420.6,304.1 415.6,304.6 350.5,305.6 349.7,305.9 349.0,306.1 347.9,306.4 346.3,307.1 343.8,308.3 340.2,310.1 335.0,312.9 328.5,316.4 321.1,320.5 313.4,324.8 305.8,329.0 298.9,332.9 292.3,336.8 285.7,340.8 279.2,344.7 273.0,348.5 267.5,351.8 262.7,354.6 258.8,356.8 255.4,358.6 252.7,360.0 250.5,361.0 248.7,361.9 247.2,362.6 247.2,330.0 247.2,330.0 247.7,321.7 249.2,313.6 251.7,305.9 255.1,298.7 259.3,292.4 264.3,287.0 269.8,282.6 275.8,279.4 282.1,277.5 288.5,276.8 352.5,274.3 M354.6,271.8L356.5,271.4 359.1,271.0 362.3,270.5 365.7,269.9 369.1,269.2 372.2,268.5 375.2,267.7 378.1,266.7 381.1,265.8 384.0,264.7 387.0,263.6 389.9,262.5 392.9,261.3 395.8,260.1 398.7,258.8 401.7,257.5 404.6,256.1 407.6,254.7 410.6,253.2 413.7,251.6 416.8,250.0 419.8,248.4 422.7,246.9 425.3,245.5 427.6,244.2 429.6,243.1 431.5,242.0 433.3,240.9 435.2,239.8 437.0,238.7 439.0,237.5 441.0,236.3 442.9,235.1 444.9,233.8 446.9,232.6 448.8,231.3 450.9,230.0 452.9,228.6 455.0,227.2 457.0,225.8 458.9,224.5 460.6,223.3 462.1,222.2 463.4,221.1 464.6,220.1 465.7,219.2 466.7,218.4 467.7,217.6 468.7,217.0 469.6,216.5 470.5,216.1 471.3,215.7 471.9,215.5 472.4,215.2 472.4,265.7 472.4,265.7 471.9,272.0 470.4,278.2 468.0,284.0 464.7,289.4 460.6,294.3 455.8,298.4 450.4,301.7 444.6,304.1 438.5,305.6 432.2,306.1 350.5,307.1 349.6,307.3 348.7,307.5 347.4,307.8 345.5,308.3 342.5,309.2 338.1,310.7 332.0,312.9 324.2,315.7 315.4,319.0 306.1,322.4 297.0,325.7 288.7,328.9 280.9,331.9 273.0,335.1 265.2,338.3 257.9,341.2 251.2,343.9 245.5,346.2 240.8,347.9 236.8,349.3 233.5,350.4 230.9,351.3 228.7,351.9 227.0,352.5 227.0,323.7 227.0,323.7 227.6,316.4 229.4,309.2 232.4,302.4 236.4,296.2 241.4,290.6 247.3,285.8 254.0,281.9 261.1,279.1 268.7,277.4 276.4,276.8 352.5,274.3 M354.6,271.8L356.5,271.5 359.1,271.1 362.3,270.7 365.7,270.2 369.1,269.6 372.3,269.0 375.2,268.3 378.2,267.5 381.2,266.7 384.1,265.8 387.1,264.8 390.0,263.9 393.0,262.9 395.9,261.8 398.9,260.8 401.9,259.6 404.8,258.5 407.8,257.3 410.8,256.0 413.9,254.7 417.0,253.3 420.0,252.0 422.9,250.7 425.5,249.5 427.8,248.4 429.9,247.4 431.8,246.5 433.6,245.6 435.4,244.6 437.3,243.7 439.3,242.7 441.3,241.7 443.2,240.6 445.2,239.6 447.2,238.5 449.2,237.5 451.2,236.3 453.3,235.1 455.4,234.0 457.4,232.8 459.3,231.7 461.0,230.6 462.5,229.7 463.8,228.8 465.0,227.9 466.1,227.2 467.1,226.5 468.1,225.9 469.1,225.3 470.0,224.9 470.9,224.5 471.7,224.2 472.3,224.0 472.8,223.8 472.8,266.7 472.8,266.7 472.3,273.0 470.8,279.2 468.4,285.0 465.1,290.4 461.0,295.3 456.2,299.4 450.8,302.7 444.9,305.1 438.8,306.6 432.4,307.1 350.5,308.1 349.6,308.3 348.7,308.4 347.4,308.7 345.5,309.1 342.5,309.8 338.2,311.0 332.0,312.8 324.3,315.1 315.5,317.7 306.3,320.5 297.2,323.2 288.9,325.8 281.1,328.3 273.2,330.8 265.5,333.4 258.2,335.8 251.5,338.0 245.8,339.8 241.1,341.2 237.2,342.3 233.9,343.2 231.3,343.9 229.1,344.5 227.4,344.9 227.4,319.0 227.4,319.0 228.0,312.4 229.8,306.0 232.7,299.9 236.8,294.2 241.8,289.2 247.7,284.9 254.3,281.4 261.4,278.9 268.9,277.3 276.6,276.8 352.5,274.3 M354.6,271.8L357.1,271.6 360.7,271.4 364.9,271.2 369.5,271.0 374.0,270.7 378.2,270.4 382.2,270.0 386.1,269.7 390.1,269.2 394.0,268.8 398.0,268.3 401.9,267.9 405.9,267.4 409.8,266.9 413.8,266.3 417.7,265.8 421.7,265.2 425.6,264.6 429.7,264.0 433.8,263.3 438.0,262.6 442.0,262.0 445.8,261.3 449.3,260.7 452.4,260.2 455.2,259.7 457.7,259.3 460.1,258.8 462.6,258.3 465.1,257.9 467.7,257.4 470.4,256.9 473.0,256.4 475.6,255.8 478.3,255.3 480.9,254.8 483.6,254.2 486.4,253.6 489.2,253.1 491.9,252.5 494.4,251.9 496.7,251.4 498.7,250.9 500.4,250.5 502.0,250.1 503.5,249.7 504.9,249.4 506.2,249.1 507.5,248.8 508.8,248.6 509.9,248.4 511.0,248.3 511.8,248.1 512.5,248.0 512.5,269.2 512.5,269.2 511.8,275.6 509.9,281.7 506.7,287.6 502.3,293.0 496.8,297.8 490.5,301.9 483.3,305.2 475.6,307.6 467.4,309.1 459.0,309.6 350.5,310.6 349.3,310.8 348.1,310.9 346.4,311.0 343.8,311.3 339.9,311.9 334.1,312.8 326.0,314.1 315.7,315.7 304.0,317.6 291.7,319.6 279.7,321.6 268.7,323.5 258.3,325.3 247.8,327.1 237.5,329.0 227.8,330.7 219.0,332.3 211.4,333.6 205.2,334.7 199.9,335.5 195.6,336.1 192.0,336.6 189.2,337.0 186.9,337.4 186.9,314.4 186.9,314.4 187.7,308.5 190.1,302.8 194.0,297.3 199.4,292.3 206.0,287.8 213.9,284.0 222.6,280.9 232.1,278.6 242.1,277.3 252.3,276.8 352.5,274.3 M354.6,271.8L357.1,271.6 360.7,271.5 364.9,271.3 369.5,271.1 374.1,270.9 378.3,270.6 382.3,270.3 386.2,270.0 390.2,269.6 394.1,269.2 398.1,268.8 402.1,268.4 406.0,268.0 410.0,267.6 413.9,267.1 417.9,266.7 421.9,266.2 425.8,265.7 429.9,265.1 434.0,264.6 438.2,264.0 442.2,263.4 446.1,262.9 449.6,262.4 452.7,261.9 455.4,261.5 458.0,261.1 460.4,260.7 462.9,260.3 465.4,259.9 468.0,259.5 470.7,259.1 473.3,258.7 476.0,258.2 478.6,257.8 481.2,257.3 483.9,256.8 486.7,256.3 489.5,255.8 492.3,255.3 494.8,254.9 497.1,254.4 499.1,254.0 500.8,253.7 502.4,253.3 503.9,253.0 505.2,252.7 506.6,252.4 507.9,252.2 509.2,252.0 510.3,251.9 511.4,251.8 512.3,251.7 512.9,251.6 512.9,271.8 512.9,271.8 512.2,278.1 510.3,284.2 507.1,290.1 502.7,295.5 497.2,300.3 490.8,304.4 483.6,307.7 475.9,310.2 467.7,311.6 459.3,312.1 350.5,313.1 349.3,313.2 348.1,313.3 346.4,313.4 343.9,313.7 339.9,314.1 334.2,314.7 326.0,315.6 315.7,316.8 304.1,318.2 291.9,319.6 279.9,321.0 268.9,322.4 258.5,323.6 248.0,325.0 237.8,326.3 228.1,327.6 219.3,328.7 211.8,329.6 205.5,330.4 200.3,331.0 196.0,331.4 192.4,331.8 189.6,332.1 187.3,332.3 187.3,311.2 187.3,311.2 188.1,305.8 190.5,300.6 194.4,295.6 199.8,291.0 206.4,286.9 214.2,283.4 222.9,280.6 232.4,278.5 242.4,277.2 252.6,276.8 352.5,274.3 M354.6,271.8L354.9,271.0 355.4,270.0 355.9,268.9 356.5,267.5 357.1,265.8 357.6,264.0 358.2,261.9 358.7,259.5 359.2,257.0 359.7,254.2 360.2,251.3 360.7,248.2 361.3,245.0 361.8,241.7 362.3,238.1 362.8,234.5 363.3,230.7 363.8,226.7 364.4,222.6 364.9,218.1 365.5,213.5 366.0,208.9 366.5,204.5 366.9,200.4 367.3,196.8 367.7,193.4 368.0,190.2 368.4,187.0 368.7,183.8 369.0,180.5 369.4,177.1 369.7,173.6 370.0,170.2 370.4,166.6 370.7,162.8 371.1,158.7 371.4,154.2 371.8,149.1 372.2,143.7 372.5,138.5 372.8,133.7 373.1,129.7 373.4,126.3 373.6,123.4 373.8,120.9 374.0,118.7 374.2,116.8 374.4,115.1 374.5,113.7 374.7,112.6 374.9,111.8 375.0,111.2 375.1,110.7 375.2,110.3 375.2,261.7 375.2,261.7 375.1,268.0 374.8,274.1 374.3,280.0 373.6,285.4 372.8,290.2 371.8,294.3 370.8,297.6 369.6,300.1 368.3,301.5 367.1,302.0 350.5,303.1 350.3,303.4 350.1,303.6 349.9,304.0 349.4,304.8 348.8,306.1 347.9,308.2 346.6,311.3 345.0,315.3 343.1,319.9 341.2,324.8 339.3,329.6 337.5,334.1 335.9,338.4 334.2,342.9 332.6,347.4 331.1,351.6 329.7,355.4 328.5,358.6 327.5,361.1 326.6,363.1 326.0,364.7 325.4,365.9 324.9,366.8 324.6,367.7 324.6,333.1 324.6,333.1 324.7,324.3 325.1,315.7 325.7,307.6 326.6,300.0 327.6,293.3 328.9,287.6 330.2,282.9 331.7,279.6 333.3,277.5 334.9,276.8 352.5,274.3 M354.6,271.8L355.0,271.1 355.7,270.4 356.5,269.4 357.4,268.3 358.3,266.9 359.1,265.2 359.9,263.3 360.6,261.2 361.4,258.8 362.1,256.2 362.9,253.5 363.7,250.6 364.4,247.5 365.2,244.2 365.9,240.8 366.7,237.2 367.5,233.5 368.2,229.6 369.0,225.4 369.8,220.9 370.6,216.2 371.4,211.6 372.1,207.1 372.8,202.9 373.4,199.2 373.9,195.7 374.4,192.4 374.9,189.1 375.3,185.8 375.8,182.3 376.3,178.7 376.8,175.2 377.3,171.6 377.8,167.8 378.3,163.8 378.9,159.5 379.4,154.6 379.9,149.2 380.4,143.5 381.0,138.0 381.5,132.8 381.9,128.4 382.3,124.8 382.6,121.7 382.9,119.1 383.2,116.7 383.5,114.7 383.7,112.9 384.0,111.4 384.2,110.2 384.4,109.3 384.6,108.7 384.8,108.2 384.9,107.7 384.9,261.7 384.9,261.7 384.8,268.0 384.4,274.1 383.7,280.0 382.8,285.4 381.6,290.2 380.2,294.3 378.7,297.6 377.1,300.1 375.3,301.5 373.6,302.0 350.5,303.1 350.2,303.4 350.0,303.7 349.6,304.1 349.0,304.9 348.2,306.3 346.9,308.6 345.2,312.0 342.9,316.3 340.4,321.2 337.7,326.5 335.1,331.7 332.7,336.5 330.4,341.2 328.1,346.0 325.9,350.8 323.8,355.4 321.9,359.5 320.2,362.9 318.8,365.7 317.7,367.8 316.8,369.5 316.0,370.8 315.4,371.8 314.9,372.7 314.9,336.3 314.9,336.3 315.0,327.0 315.6,317.9 316.4,309.3 317.6,301.3 319.0,294.2 320.7,288.2 322.6,283.3 324.7,279.7 326.9,277.5 329.1,276.8 352.5,274.3 M354.6,271.8L355.3,271.2 356.3,270.5 357.6,269.7 358.9,268.7 360.2,267.4 361.5,265.8 362.6,263.9 363.8,261.8 364.9,259.4 366.1,256.8 367.2,254.0 368.4,251.0 369.6,247.7 370.7,244.3 371.9,240.7 373.0,236.8 374.2,232.8 375.3,228.6 376.5,224.0 377.7,219.1 378.9,214.0 380.1,208.9 381.2,203.9 382.3,199.3 383.2,195.1 384.0,191.2 384.7,187.5 385.4,183.9 386.1,180.1 386.9,176.1 387.6,172.1 388.4,168.1 389.2,164.0 389.9,159.7 390.7,155.1 391.5,150.2 392.3,144.5 393.1,138.2 393.9,131.6 394.7,125.2 395.4,119.2 396.1,114.1 396.7,109.9 397.2,106.3 397.7,103.2 398.1,100.5 398.5,98.2 398.9,96.1 399.3,94.3 399.6,93.0 400.0,91.9 400.3,91.2 400.5,90.6 400.7,90.1 400.7,261.7 400.7,261.7 400.5,268.0 399.9,274.1 398.9,280.0 397.6,285.4 395.9,290.2 393.9,294.3 391.7,297.6 389.3,300.1 386.7,301.5 384.1,302.0 350.5,303.1 350.1,303.4 349.7,303.7 349.2,304.2 348.4,305.1 347.2,306.7 345.4,309.2 342.9,313.0 339.6,317.8 336.0,323.2 332.2,329.0 328.4,334.8 325.0,340.1 321.7,345.3 318.5,350.7 315.3,356.0 312.2,361.1 309.5,365.7 307.1,369.5 305.2,372.5 303.5,374.8 302.2,376.7 301.1,378.2 300.2,379.3 299.5,380.3 299.5,341.0 299.5,341.0 299.7,330.9 300.5,321.1 301.7,311.8 303.4,303.2 305.4,295.6 307.9,289.1 310.6,283.8 313.6,279.9 316.7,277.6 319.9,276.8 352.5,274.3 M354.6,271.8L355.5,271.3 356.9,270.6 358.6,269.9 360.3,268.9 362.1,267.7 363.7,266.3 365.3,264.6 366.8,262.6 368.3,260.4 369.8,258.0 371.4,255.4 372.9,252.7 374.4,249.7 376.0,246.6 377.5,243.3 379.0,239.7 380.5,236.1 382.1,232.2 383.6,228.0 385.2,223.5 386.8,218.8 388.4,214.1 389.9,209.6 391.2,205.4 392.4,201.5 393.5,198.0 394.5,194.5 395.4,191.2 396.4,187.7 397.4,184.1 398.4,180.4 399.4,176.7 400.4,172.9 401.4,169.0 402.5,164.8 403.5,160.3 404.5,155.1 405.6,149.4 406.7,143.3 407.7,137.4 408.7,131.9 409.6,127.2 410.4,123.4 411.0,120.1 411.7,117.3 412.2,114.8 412.7,112.6 413.3,110.7 413.8,109.1 414.3,107.9 414.7,106.9 415.1,106.2 415.5,105.7 415.7,105.2 415.7,262.7 415.7,262.7 415.4,269.0 414.7,275.2 413.4,281.0 411.6,286.4 409.4,291.2 406.8,295.3 404.0,298.6 400.8,301.1 397.6,302.6 394.2,303.1 350.5,304.1 350.0,304.4 349.5,304.7 348.8,305.1 347.8,305.9 346.2,307.3 343.9,309.6 340.5,313.0 336.4,317.3 331.6,322.3 326.6,327.5 321.8,332.7 317.3,337.5 313.1,342.2 308.8,347.0 304.6,351.9 300.7,356.4 297.1,360.5 294.0,364.0 291.5,366.7 289.4,368.8 287.6,370.5 286.2,371.8 285.0,372.8 284.1,373.7 284.1,336.9 284.1,336.9 284.4,327.5 285.4,318.3 287.0,309.6 289.2,301.6 291.9,294.4 295.0,288.3 298.6,283.4 302.4,279.7 306.5,277.5 310.6,276.8 352.5,274.3 M354.6,271.8L355.8,271.3 357.5,270.7 359.6,270.0 361.8,269.2 364.0,268.1 366.1,266.8 368.0,265.2 369.9,263.4 371.9,261.5 373.8,259.3 375.7,256.9 377.6,254.4 379.6,251.7 381.5,248.9 383.4,245.9 385.3,242.7 387.3,239.3 389.2,235.8 391.1,232.0 393.2,227.9 395.2,223.6 397.2,219.4 399.0,215.2 400.7,211.4 402.2,207.9 403.6,204.7 404.8,201.6 406.0,198.5 407.2,195.4 408.4,192.1 409.7,188.7 411.0,185.4 412.3,181.9 413.5,178.4 414.8,174.6 416.1,170.4 417.4,165.7 418.8,160.5 420.1,155.0 421.5,149.6 422.7,144.6 423.8,140.4 424.8,136.9 425.6,133.9 426.4,131.3 427.1,129.1 427.8,127.1 428.4,125.4 429.1,123.9 429.7,122.8 430.2,121.9 430.8,121.3 431.2,120.8 431.5,120.3 431.5,263.2 431.5,263.2 431.2,269.5 430.2,275.7 428.6,281.5 426.4,286.9 423.7,291.7 420.5,295.8 416.9,299.2 413.0,301.6 409.0,303.1 404.8,303.6 350.5,304.6 349.9,304.9 349.3,305.2 348.4,305.6 347.1,306.4 345.0,307.9 342.1,310.2 337.9,313.6 332.6,318.0 326.5,323.0 320.2,328.3 314.0,333.6 308.4,338.5 303.0,343.2 297.6,348.2 292.3,353.1 287.3,357.7 282.8,361.9 278.9,365.3 275.7,368.1 273.0,370.3 270.7,372.0 268.9,373.3 267.4,374.3 266.3,375.2 266.3,337.8 266.3,337.8 266.7,328.3 267.9,319.0 269.9,310.1 272.7,302.0 276.1,294.7 280.1,288.5 284.7,283.5 289.5,279.8 294.7,277.6 300.0,276.8 352.5,274.3 M354.6,271.8L356.1,271.4 358.2,271.1 360.7,270.6 363.4,270.0 366.1,269.2 368.6,268.3 370.9,267.1 373.3,265.7 375.6,264.2 377.9,262.5 380.3,260.7 382.6,258.7 385.0,256.6 387.3,254.3 389.6,251.8 392.0,249.2 394.3,246.4 396.6,243.5 399.0,240.4 401.5,236.9 404.0,233.4 406.4,229.8 408.6,226.3 410.7,223.0 412.5,220.0 414.1,217.3 415.7,214.6 417.1,212.0 418.5,209.3 420.0,206.4 421.6,203.5 423.2,200.6 424.7,197.6 426.3,194.5 427.8,191.2 429.4,187.5 431.0,183.4 432.7,178.7 434.3,173.8 435.9,169.0 437.4,164.6 438.7,160.8 439.9,157.8 441.0,155.1 441.9,152.8 442.8,150.8 443.6,149.1 444.4,147.5 445.1,146.2 445.9,145.2 446.6,144.5 447.2,143.9 447.7,143.4 448.1,143.1 448.1,263.7 448.1,263.7 447.7,270.0 446.5,276.2 444.6,282.0 442.0,287.4 438.7,292.2 434.8,296.3 430.5,299.7 425.8,302.1 420.9,303.6 415.9,304.1 350.5,305.1 349.7,305.4 348.9,305.7 347.9,306.1 346.2,306.8 343.7,308.2 340.0,310.4 334.8,313.6 328.2,317.8 320.7,322.5 312.8,327.5 305.1,332.4 298.1,337.0 291.4,341.5 284.6,346.2 278.1,350.8 271.8,355.2 266.2,359.1 261.3,362.4 257.3,365.0 254.0,367.0 251.2,368.6 248.9,369.9 247.1,370.9 245.6,371.7 245.6,335.6 245.6,335.6 246.1,326.4 247.7,317.5 250.2,308.9 253.6,301.1 257.9,294.0 262.9,288.0 268.5,283.2 274.6,279.7 281.0,277.5 287.6,276.8 352.5,274.3 M354.6,271.8L356.5,271.6 359.2,271.5 362.3,271.4 365.8,271.1 369.2,270.8 372.3,270.4 375.3,269.8 378.3,269.1 381.2,268.3 384.2,267.5 387.2,266.5 390.1,265.3 393.1,264.1 396.1,262.7 399.0,261.3 402.0,259.7 405.0,257.9 407.9,256.1 411.0,254.0 414.1,251.7 417.2,249.3 420.3,246.9 423.1,244.5 425.7,242.2 428.1,240.2 430.1,238.2 432.1,236.3 433.9,234.4 435.7,232.4 437.6,230.3 439.6,228.2 441.6,226.0 443.5,223.8 445.5,221.5 447.5,218.9 449.5,216.2 451.5,212.9 453.6,209.2 455.7,205.4 457.7,201.5 459.6,198.0 461.3,195.0 462.8,192.6 464.2,190.4 465.4,188.6 466.4,187.0 467.5,185.7 468.5,184.4 469.5,183.4 470.4,182.6 471.3,182.0 472.1,181.6 472.7,181.2 473.2,180.9 473.2,264.7 473.2,264.7 472.7,271.0 471.2,277.2 468.8,283.0 465.5,288.4 461.4,293.2 456.5,297.4 451.1,300.7 445.2,303.1 439.1,304.6 432.7,305.1 350.5,306.1 349.6,306.4 348.7,306.6 347.4,307.0 345.4,307.7 342.4,309.0 338.1,311.0 331.9,314.0 324.0,317.8 315.1,322.2 305.8,326.8 296.7,331.4 288.3,335.6 280.4,339.8 272.4,344.1 264.6,348.3 257.2,352.4 250.6,356.0 244.8,359.0 240.1,361.4 236.1,363.3 232.8,364.8 230.1,366.0 227.9,366.9 226.2,367.7 226.2,333.1 226.2,333.1 226.8,324.3 228.6,315.7 231.6,307.6 235.7,300.0 240.7,293.3 246.7,287.6 253.3,282.9 260.5,279.6 268.1,277.5 275.9,276.8 352.5,274.3 M354.6,271.8L365.4,270.9 380.3,269.6 398.0,268.2 417.2,266.6 436.3,265.0 454.0,263.4 471.7,261.6 490.8,259.7 509.9,257.7 527.6,255.8 542.6,254.2 553.4,253.1 553.4,280.3 553.4,280.3 552.7,285.9 550.6,291.3 547.2,296.4 542.6,301.1 536.8,305.3 530.0,308.9 522.4,311.8 514.2,313.9 505.6,315.2 496.7,315.7 350.5,316.7 339.5,317.2 324.2,317.9 306.2,318.7 286.8,319.5 267.3,320.4 249.2,321.2 231.2,322.0 211.8,322.9 192.3,323.8 174.2,324.6 159.0,325.3 148.0,325.8 148.0,307.2 148.0,307.2 149.0,302.4 152.0,297.8 156.8,293.4 163.5,289.3 171.7,285.7 181.4,282.6 192.2,280.1 204.0,278.3 216.3,277.2 229.0,276.8 352.5,274.3 M352.5,309.6L310.0,310.1 249.2,311.1 188.5,309.6 145.2,307.1 127.8,312.1 112.4,318.7 112.4,302.0 105.1,302.0 105.1,289.4 109.5,281.9 119.7,275.8 131.8,270.7 141.9,266.7 152.1,263.2 168.2,260.7 196.6,260.2 249.2,260.7 310.0,261.7 342.4,262.7 352.5,264.7 411.2,261.7 492.2,256.6 553.4,254.1" fill="none" stroke="#e63d2c" stroke-width="1.9" stroke-linejoin="round"/>
<path d="M978.2,317.7L978.8,313.3 979.6,307.2 980.6,299.9 981.6,292.0 982.5,284.1 983.4,276.6 984.2,269.4 985.0,262.0 985.7,254.5 986.4,247.0 987.1,239.8 987.8,232.7 988.4,225.7 988.9,218.6 989.5,211.6 990.0,205.1 990.4,199.2 990.8,194.3 991.1,190.5 991.4,187.4 991.6,185.1 991.8,183.3 992.0,181.8 992.1,180.6 992.1,273.9 992.1,273.9 992.1,275.6 992.0,277.2 992.0,278.8 991.9,280.3 991.7,281.6 991.6,282.7 991.4,283.6 991.2,284.3 991.0,284.7 990.8,284.8 993.4,287.6 993.0,285.9 992.4,283.3 991.8,280.4 991.0,277.8 990.3,276.3 989.5,276.6 988.8,278.9 988.0,282.9 987.1,287.9 986.3,293.5 985.5,299.0 984.7,304.0 983.9,308.9 983.1,314.2 982.3,319.4 981.5,324.3 980.9,328.5 980.4,331.4 980.4,287.6 980.4,287.6 980.4,283.3 980.5,279.1 980.6,275.1 980.8,271.5 981.0,268.2 981.3,265.4 981.6,263.1 981.9,261.5 982.2,260.5 982.6,260.1 989.1,257.4 M976.0,331.4L976.8,326.1 977.8,318.8 978.9,310.2 980.2,300.8 981.4,291.2 982.6,282.1 983.6,273.5 984.6,264.8 985.5,256.0 986.5,246.9 987.4,237.4 988.2,227.2 989.0,216.1 989.7,203.9 990.3,191.3 990.9,178.7 991.5,166.8 992.1,156.0 992.7,146.0 993.3,136.4 993.8,127.4 994.3,119.3 994.8,112.3 995.1,106.6 995.5,102.6 995.8,100.0 996.0,98.6 996.2,97.8 996.3,97.3 996.5,96.7 996.5,268.4 996.5,268.4 996.4,270.5 996.3,272.6 996.2,274.6 996.0,276.4 995.8,278.1 995.6,279.5 995.3,280.6 995.0,281.4 994.6,281.9 994.3,282.1 995.6,287.6 995.0,284.2 994.2,278.9 993.3,273.0 992.3,267.6 991.3,263.8 990.4,262.9 989.5,265.4 988.6,270.4 987.6,277.1 986.7,284.6 985.7,292.1 984.7,298.5 983.7,304.2 982.6,309.9 981.5,315.5 980.4,321.0 979.3,326.3 978.2,331.4 977.2,336.6 976.2,341.8 975.2,346.9 974.2,351.5 973.4,355.6 972.6,358.9 971.9,361.1 971.3,362.5 970.7,363.3 970.2,363.7 969.8,364.0 969.5,364.3 969.5,301.3 969.5,301.3 969.6,294.8 969.7,288.6 970.0,282.6 970.4,277.1 970.8,272.2 971.3,268.0 971.9,264.6 972.5,262.2 973.2,260.7 973.9,260.1 989.1,257.4 M973.9,345.2L974.8,338.8 976.2,330.0 977.8,319.6 979.5,308.5 981.1,297.5 982.6,287.6 983.8,278.8 985.0,270.4 986.1,262.2 987.1,253.9 988.1,245.0 989.1,235.5 990.0,225.0 990.8,213.9 991.6,202.4 992.4,190.6 993.1,178.7 993.8,166.9 994.6,154.7 995.4,141.6 996.1,128.5 996.8,116.0 997.5,104.8 998.2,95.6 998.8,88.6 999.5,83.1 1000.1,79.0 1000.6,75.8 1001.2,73.3 1001.7,71.0 1002.1,69.2 1002.6,68.2 1003.0,67.9 1003.4,67.9 1003.7,68.0 1003.9,67.9 1003.9,265.6 1003.9,265.6 1003.9,268.2 1003.7,270.7 1003.5,273.1 1003.3,275.3 1002.9,277.3 1002.5,278.9 1002.0,280.3 1001.5,281.3 1001.0,281.9 1000.4,282.1 996.5,287.6 995.9,284.5 995.2,279.7 994.3,274.4 993.3,269.5 992.3,266.2 991.2,265.6 990.2,268.2 989.1,273.2 987.9,279.9 986.7,287.3 985.5,294.7 984.3,301.3 983.1,307.3 981.9,313.5 980.6,319.6 979.4,325.7 978.1,331.5 976.9,336.9 975.7,342.2 974.4,347.5 973.2,352.6 972.0,357.2 970.7,361.2 969.5,364.3 968.3,366.5 966.9,367.8 965.6,368.4 964.4,368.6 963.3,368.8 962.6,369.0 962.6,301.3 962.6,301.3 962.7,294.8 962.9,288.6 963.2,282.6 963.7,277.1 964.2,272.2 964.9,268.0 965.7,264.6 966.5,262.2 967.3,260.7 968.2,260.1 989.1,257.4 M978.2,317.7L979.0,312.6 980.2,305.5 981.5,297.2 982.9,288.2 984.3,279.3 985.6,271.1 986.7,263.9 987.8,257.1 988.9,250.4 990.0,243.4 991.1,235.8 992.1,227.2 993.2,217.5 994.2,206.7 995.3,195.4 996.3,183.8 997.3,172.3 998.2,161.4 999.0,150.7 999.7,139.8 1000.4,129.0 1001.1,118.7 1001.8,109.3 1002.5,101.1 1003.4,94.2 1004.3,88.2 1005.2,83.1 1006.1,78.8 1007.0,75.2 1007.7,72.3 1008.5,70.4 1009.2,69.5 1009.8,69.3 1010.4,69.5 1010.9,69.8 1011.2,69.9 1011.2,265.6 1011.2,265.6 1011.2,268.2 1011.0,270.7 1010.7,273.1 1010.4,275.3 1009.9,277.3 1009.4,278.9 1008.8,280.3 1008.2,281.3 1007.6,281.9 1006.9,282.1 995.6,287.6 994.9,286.6 994.0,284.9 993.0,283.1 991.8,281.7 990.6,281.2 989.5,282.1 988.4,284.7 987.3,288.6 986.1,293.4 985.0,298.7 983.8,304.2 982.6,309.5 981.3,314.9 980.1,320.7 978.8,326.6 977.5,332.5 976.2,337.8 974.7,342.4 973.1,346.3 971.3,349.7 969.5,352.7 967.7,355.2 966.3,357.3 965.2,358.9 965.2,301.3 965.2,301.3 965.3,294.8 965.5,288.6 965.8,282.6 966.3,277.1 966.8,272.2 967.5,268.0 968.3,264.6 969.1,262.2 970.0,260.7 970.8,260.1 989.1,257.4 M982.6,282.1L983.2,277.7 984.2,271.6 985.3,264.4 986.5,256.6 987.8,248.6 989.1,241.0 990.4,233.4 991.8,225.4 993.2,217.3 994.7,209.3 996.2,201.5 997.8,194.3 999.4,187.8 1001.2,181.8 1003.0,176.2 1004.7,170.6 1006.3,164.8 1007.7,158.7 1008.9,151.9 1009.9,144.7 1010.7,137.3 1011.5,130.1 1012.2,123.4 1012.9,117.6 1013.7,112.6 1014.5,108.2 1015.2,104.4 1015.9,101.0 1016.6,98.1 1017.3,95.6 1018.0,93.7 1018.8,92.4 1019.6,91.5 1020.4,91.0 1021.0,90.6 1021.4,90.1 1021.4,262.9 1021.4,262.9 1021.3,265.5 1021.1,268.0 1020.7,270.4 1020.2,272.6 1019.5,274.5 1018.7,276.2 1017.9,277.5 1016.9,278.5 1015.9,279.1 1014.9,279.3 993.4,288.9 992.9,288.8 992.1,288.4 991.2,288.1 990.2,288.1 989.2,288.7 988.2,290.3 987.2,293.1 986.3,296.8 985.2,301.2 984.2,305.9 983.0,310.6 981.7,315.0 980.2,319.3 978.7,323.7 977.0,328.2 975.2,332.5 973.5,336.3 971.7,339.7 969.9,342.4 967.9,344.7 966.0,346.6 964.1,348.1 962.3,349.5 960.9,350.6 959.6,351.5 958.5,352.1 957.6,352.4 956.8,352.6 956.1,352.7 955.6,352.8 955.6,301.3 955.6,301.3 955.7,294.8 956.1,288.6 956.6,282.6 957.3,277.1 958.2,272.2 959.2,268.0 960.4,264.6 961.6,262.2 963.0,260.7 964.3,260.1 989.1,257.4 M985.6,261.5L986.0,260.4 986.4,258.9 987.0,257.1 987.6,254.9 988.3,252.3 988.9,249.2 989.4,245.5 989.9,241.2 990.5,236.4 991.0,231.5 991.6,226.5 992.1,221.8 992.6,216.9 993.1,211.8 993.5,206.7 994.0,201.9 994.6,197.7 995.4,194.3 996.3,192.1 997.4,190.9 998.5,190.2 999.8,189.8 1001.0,189.3 1002.2,188.3 1003.3,186.9 1004.4,185.4 1005.6,183.8 1006.7,182.1 1007.8,180.3 1009.0,178.5 1010.1,176.6 1011.2,174.7 1012.4,172.7 1013.5,170.6 1014.6,168.5 1015.8,166.4 1016.9,164.1 1018.1,161.7 1019.3,159.3 1020.5,156.9 1021.6,154.6 1022.6,152.5 1023.5,150.5 1024.4,148.6 1025.2,146.7 1026.0,145.0 1026.6,143.6 1027.1,142.4 1027.4,141.9 1027.5,142.1 1027.5,142.5 1027.5,142.6 1027.6,142.1 1028.0,140.3 1028.8,136.9 1029.8,132.1 1031.0,126.5 1032.3,121.0 1033.4,116.1 1034.4,112.6 1035.2,110.6 1035.9,109.5 1036.5,109.1 1037.1,109.1 1037.7,109.2 1038.2,109.1 1038.7,108.9 1039.2,108.8 1039.7,108.7 1040.1,108.8 1040.5,108.8 1040.7,108.8 1040.7,264.3 1040.7,264.3 1040.6,266.4 1040.3,268.5 1039.8,270.5 1039.1,272.3 1038.2,274.0 1037.2,275.4 1036.0,276.5 1034.7,277.3 1033.4,277.8 1032.1,278.0 989.1,291.7 988.6,292.9 988.0,294.5 987.3,296.5 986.6,298.6 985.8,300.7 985.2,302.6 984.7,304.5 984.3,306.3 984.0,308.2 983.5,310.0 982.8,311.8 981.7,313.6 980.2,315.4 978.3,317.1 976.2,318.7 973.9,320.4 971.6,322.0 969.3,323.6 967.0,325.2 964.5,326.7 962.0,328.3 959.5,329.7 957.1,331.1 954.9,332.3 952.9,333.4 950.9,334.4 949.1,335.3 947.4,336.1 945.9,336.7 944.6,337.3 943.5,337.8 942.6,338.1 941.9,338.3 941.3,338.4 940.8,338.5 940.4,338.6 940.4,317.7 940.4,317.7 940.6,311.3 941.1,305.0 941.9,299.1 942.9,293.6 944.3,288.6 945.8,284.5 947.6,281.1 949.4,278.6 951.4,277.1 953.5,276.6 988.2,253.3 M985.6,261.5L986.0,260.2 986.5,258.5 987.1,256.5 987.7,254.2 988.3,251.7 988.9,249.2 989.3,246.5 989.6,243.6 990.0,240.6 990.3,237.5 990.6,234.4 991.0,231.4 991.2,228.2 991.4,224.9 991.6,221.7 991.9,218.5 992.3,215.8 993.1,213.5 994.2,212.0 995.6,211.0 997.3,210.4 999.0,209.9 1000.7,209.3 1002.3,208.4 1003.9,207.2 1005.4,205.9 1006.9,204.5 1008.5,203.1 1010.0,201.6 1011.5,200.0 1013.1,198.4 1014.6,196.8 1016.2,195.1 1017.7,193.3 1019.2,191.5 1020.8,189.7 1022.4,187.8 1024.0,185.7 1025.6,183.7 1027.2,181.6 1028.7,179.7 1030.0,177.9 1031.3,176.2 1032.5,174.5 1033.6,172.9 1034.6,171.5 1035.5,170.3 1036.2,169.3 1036.6,168.8 1036.7,169.0 1036.6,169.3 1036.6,169.4 1036.8,169.0 1037.4,167.5 1038.4,164.6 1039.8,160.5 1041.5,155.7 1043.1,151.0 1044.7,146.8 1046.0,143.8 1047.1,142.1 1048.1,141.2 1048.9,140.9 1049.7,140.9 1050.5,141.0 1051.2,140.9 1051.9,140.7 1052.6,140.6 1053.2,140.5 1053.8,140.6 1054.3,140.6 1054.6,140.6 1054.6,262.9 1054.6,262.9 1054.5,265.0 1054.2,267.1 1053.7,269.1 1053.0,270.9 1052.1,272.6 1051.0,274.0 1049.9,275.1 1048.6,275.9 1047.3,276.4 1045.9,276.6 989.1,291.7 988.6,292.9 988.0,294.5 987.3,296.5 986.6,298.6 985.8,300.7 985.2,302.6 984.7,304.5 984.6,306.4 984.4,308.2 984.0,310.1 983.2,311.9 981.7,313.6 979.4,315.3 976.5,316.9 973.1,318.6 969.4,320.1 965.7,321.7 962.0,323.2 958.3,324.7 954.4,326.2 950.3,327.6 946.4,329.0 942.6,330.3 939.1,331.5 935.9,332.6 932.8,333.5 929.9,334.3 927.2,335.1 924.8,335.7 922.7,336.3 921.0,336.7 919.5,337.0 918.4,337.2 917.5,337.3 916.7,337.4 916.1,337.5 916.1,316.4 916.1,316.4 916.3,309.9 917.0,303.6 918.0,297.7 919.5,292.2 921.2,287.3 923.3,283.1 925.6,279.7 928.1,277.2 930.8,275.7 933.5,275.2 988.2,253.3 M985.6,261.5L986.0,260.2 986.5,258.3 987.1,256.0 987.8,253.6 988.4,251.3 988.9,249.2 989.2,247.3 989.4,245.4 989.6,243.6 989.8,241.8 990.0,240.0 990.2,238.2 990.2,236.3 990.2,234.3 990.1,232.3 990.2,230.4 990.6,228.7 991.5,227.2 992.9,226.2 994.8,225.5 996.9,224.9 999.3,224.4 1001.6,223.9 1003.8,223.1 1005.9,222.2 1007.9,221.2 1010.0,220.0 1012.0,218.9 1014.1,217.7 1016.1,216.4 1018.2,215.1 1020.3,213.8 1022.3,212.5 1024.4,211.1 1026.4,209.6 1028.5,208.1 1030.6,206.6 1032.7,205.0 1034.9,203.3 1037.0,201.7 1039.0,200.1 1040.8,198.7 1042.5,197.3 1044.1,196.0 1045.6,194.7 1046.9,193.6 1048.1,192.6 1049.0,191.8 1049.6,191.4 1049.7,191.6 1049.7,191.8 1049.7,191.9 1049.9,191.6 1050.7,190.4 1052.1,188.0 1054.0,184.7 1056.1,181.0 1058.3,177.2 1060.4,173.8 1062.2,171.4 1063.7,170.0 1064.9,169.3 1066.1,169.1 1067.2,169.1 1068.2,169.1 1069.1,169.1 1070.1,168.9 1071.0,168.8 1071.9,168.8 1072.6,168.8 1073.3,168.8 1073.7,168.8 1073.7,267.0 1073.7,267.0 1073.6,268.7 1073.3,270.4 1072.8,272.0 1072.1,273.4 1071.2,274.8 1070.2,275.9 1069.0,276.8 1067.7,277.4 1066.4,277.8 1065.0,278.0 989.1,291.7 988.6,292.9 988.0,294.5 987.3,296.5 986.6,298.6 985.8,300.7 985.2,302.6 984.8,304.5 984.8,306.4 984.7,308.3 984.4,310.1 983.5,311.9 981.7,313.6 978.8,315.2 975.1,316.7 970.8,318.2 966.1,319.6 961.3,320.9 956.7,322.3 952.0,323.6 947.0,325.0 941.8,326.3 936.8,327.6 931.9,328.8 927.5,329.9 923.4,330.8 919.5,331.7 915.8,332.4 912.4,333.1 909.3,333.7 906.7,334.2 904.5,334.6 902.7,334.8 901.2,335.0 900.0,335.1 899.1,335.2 898.3,335.3 898.3,313.6 898.3,313.6 898.6,307.2 899.4,300.9 900.7,294.9 902.5,289.4 904.7,284.5 907.3,280.3 910.2,277.0 913.3,274.5 916.6,273.0 920.0,272.5 988.2,253.3 M985.6,261.5L986.0,260.1 986.5,258.1 987.2,255.8 987.8,253.3 988.4,251.1 988.9,249.2 989.1,247.7 989.3,246.5 989.4,245.4 989.5,244.4 989.6,243.4 989.7,242.3 989.6,241.1 989.4,239.9 989.2,238.7 989.2,237.5 989.5,236.4 990.5,235.5 992.2,234.7 994.5,234.2 997.1,233.8 1000.0,233.3 1002.9,232.9 1005.6,232.3 1008.1,231.5 1010.6,230.7 1013.1,229.8 1015.6,228.9 1018.2,228.0 1020.7,227.0 1023.2,226.0 1025.7,224.9 1028.2,223.9 1030.7,222.8 1033.2,221.6 1035.8,220.5 1038.3,219.3 1041.0,218.0 1043.6,216.7 1046.2,215.4 1048.6,214.2 1050.9,213.1 1052.9,212.0 1054.9,211.0 1056.7,210.0 1058.3,209.1 1059.8,208.3 1060.9,207.7 1061.6,207.4 1061.7,207.5 1061.7,207.7 1061.7,207.8 1062.0,207.5 1062.9,206.6 1064.6,204.7 1066.9,202.1 1069.6,199.2 1072.3,196.2 1074.8,193.6 1077.0,191.7 1078.8,190.6 1080.3,190.1 1081.8,189.9 1083.1,189.9 1084.3,189.9 1085.5,189.8 1086.6,189.7 1087.8,189.7 1088.8,189.6 1089.7,189.7 1090.5,189.7 1091.1,189.7 1091.1,268.4 1091.1,268.4 1091.0,270.1 1090.7,271.8 1090.1,273.4 1089.4,274.8 1088.6,276.1 1087.5,277.2 1086.4,278.1 1085.1,278.8 1083.8,279.2 1082.4,279.3 989.1,291.7 988.6,292.9 988.0,294.5 987.3,296.5 986.6,298.6 985.8,300.7 985.2,302.6 984.9,304.5 984.9,306.3 985.0,308.2 984.8,310.0 983.8,311.8 981.7,313.6 978.3,315.4 973.9,317.1 968.7,318.7 963.2,320.4 957.4,322.0 951.9,323.6 946.2,325.2 940.3,326.7 934.2,328.3 928.1,329.7 922.3,331.1 917.1,332.3 912.2,333.4 907.5,334.4 903.1,335.3 899.0,336.1 895.4,336.7 892.2,337.3 889.6,337.8 887.4,338.1 885.7,338.3 884.3,338.4 883.2,338.5 882.3,338.6 882.3,310.9 882.3,310.9 882.6,304.4 883.5,298.2 885.1,292.2 887.2,286.7 889.9,281.8 893.0,277.6 896.5,274.2 900.3,271.8 904.2,270.3 908.3,269.7 988.2,253.3 M985.6,261.5L986.0,260.1 986.6,258.0 987.2,255.5 987.9,253.0 988.4,250.8 988.9,249.2 989.1,248.2 989.2,247.6 989.2,247.2 989.2,247.0 989.2,246.8 989.2,246.4 989.0,246.0 988.6,245.5 988.2,245.1 988.0,244.6 988.4,244.2 989.5,243.7 991.6,243.2 994.5,242.8 997.9,242.4 1001.6,241.9 1005.3,241.4 1008.7,240.8 1011.9,240.2 1015.1,239.5 1018.3,238.7 1021.5,237.9 1024.7,237.0 1027.9,236.2 1031.1,235.3 1034.3,234.4 1037.5,233.4 1040.7,232.4 1043.9,231.4 1047.1,230.4 1050.4,229.4 1053.8,228.2 1057.1,227.1 1060.4,225.9 1063.5,224.8 1066.3,223.8 1069.0,222.9 1071.5,222.0 1073.8,221.1 1075.9,220.3 1077.7,219.6 1079.2,219.1 1080.0,218.8 1080.2,218.9 1080.1,219.1 1080.1,219.2 1080.5,218.9 1081.7,218.1 1083.9,216.5 1086.8,214.2 1090.2,211.5 1093.6,208.9 1096.9,206.6 1099.6,204.9 1101.9,204.0 1103.9,203.5 1105.7,203.3 1107.4,203.3 1108.9,203.3 1110.4,203.3 1111.9,203.2 1113.3,203.1 1114.7,203.1 1115.9,203.1 1116.8,203.1 1117.6,203.1 1117.6,272.5 1117.6,272.5 1117.5,274.2 1117.2,275.9 1116.6,277.5 1115.9,278.9 1115.0,280.2 1114.0,281.4 1112.8,282.3 1111.6,282.9 1110.3,283.3 1108.9,283.5 989.1,291.7 988.6,292.9 988.0,294.5 987.3,296.5 986.6,298.6 985.8,300.7 985.2,302.6 985.0,304.5 985.2,306.5 985.6,308.5 985.4,310.4 984.3,312.1 981.7,313.6 977.4,314.8 971.8,315.8 965.3,316.7 958.2,317.5 950.9,318.2 943.8,319.0 936.6,319.8 929.0,320.7 921.3,321.5 913.6,322.3 906.3,323.0 899.6,323.7 893.4,324.3 887.4,324.8 881.8,325.3 876.6,325.7 872.0,326.1 868.0,326.4 864.6,326.6 861.9,326.8 859.7,326.9 857.9,327.0 856.5,327.0 855.4,327.1 855.4,308.1 855.4,308.1 855.8,301.7 857.1,295.4 859.1,289.5 862.0,284.0 865.5,279.0 869.7,274.9 874.3,271.5 879.4,269.0 884.7,267.5 890.1,267.0 988.2,253.3 M985.6,261.5L990.5,260.9 997.2,260.0 1005.2,258.9 1013.8,257.9 1022.4,256.9 1030.3,256.0 1037.7,255.5 1045.2,255.0 1052.6,254.7 1059.9,254.3 1067.0,253.9 1073.7,253.3 1080.3,252.6 1086.8,251.8 1093.0,251.0 1098.8,250.0 1104.0,249.0 1108.5,247.8 1111.9,246.5 1114.4,245.0 1116.3,243.4 1117.9,241.7 1119.6,240.0 1121.5,238.2 1123.8,236.1 1126.2,233.7 1128.7,231.2 1131.0,228.9 1133.0,227.1 1134.5,226.1 1135.4,226.3 1135.6,227.5 1135.5,229.1 1135.4,230.8 1135.7,232.2 1136.7,232.7 1138.5,232.3 1141.0,231.3 1143.9,229.9 1146.8,228.3 1149.6,226.9 1151.9,225.9 1153.8,225.2 1155.6,224.6 1157.2,224.2 1158.6,223.9 1159.7,223.6 1160.6,223.4 1160.6,280.4 1160.6,280.4 1160.5,281.7 1160.1,283.0 1159.6,284.2 1158.9,285.3 1158.0,286.3 1157.0,287.1 1155.8,287.8 1154.6,288.3 1153.2,288.6 1151.9,288.7 989.1,291.7 988.6,292.9 988.0,294.5 987.3,296.5 986.6,298.6 985.8,300.7 985.2,302.6 985.1,304.5 985.7,306.5 986.4,308.5 986.4,310.4 985.0,312.1 981.7,313.6 976.0,314.8 968.5,315.7 959.6,316.5 950.0,317.2 940.1,317.8 930.5,318.6 920.8,319.3 910.6,320.1 900.1,320.9 889.7,321.6 879.9,322.3 870.8,322.9 862.4,323.4 854.4,323.9 846.8,324.3 839.8,324.7 833.6,325.1 828.1,325.3 823.6,325.6 819.9,325.7 816.9,325.8 814.5,325.9 812.6,325.9 811.1,326.0 811.1,304.6 811.1,304.6 811.6,298.1 813.2,291.9 815.8,285.9 819.4,280.4 823.8,275.5 829.0,271.3 834.8,267.9 841.1,265.5 847.7,263.9 854.5,263.4 988.2,253.3 M985.6,261.5L990.2,262.0 996.4,262.7 1003.9,263.5 1012.2,264.3 1021.2,265.1 1030.3,265.6 1040.0,266.1 1050.5,266.4 1061.5,266.7 1072.9,266.9 1084.3,267.0 1095.4,267.0 1106.9,267.1 1119.0,267.3 1131.2,267.4 1142.8,267.3 1153.2,266.7 1161.9,265.4 1168.6,263.1 1173.7,260.0 1177.7,256.3 1180.9,252.6 1183.8,249.2 1186.6,246.4 1189.2,244.3 1191.3,242.6 1193.0,241.1 1194.5,239.9 1195.9,238.8 1197.5,237.7 1199.2,236.6 1201.0,235.7 1202.7,234.9 1204.3,234.3 1205.6,233.7 1206.6,233.3 1206.6,283.5 1206.6,283.5 1206.5,284.7 1206.2,286.0 1205.6,287.2 1204.9,288.3 1204.0,289.3 1203.0,290.1 1201.8,290.8 1200.6,291.3 1199.3,291.6 1197.9,291.7 989.1,291.7 984.6,291.5 978.8,291.3 971.7,291.0 963.4,290.8 954.0,290.5 943.5,290.3 931.1,290.1 916.8,290.0 901.3,289.8 885.5,289.7 870.3,289.6 856.7,289.5 844.0,289.4 831.7,289.3 820.0,289.2 809.2,289.1 799.6,289.0 791.5,288.9 785.2,288.9 780.5,288.8 776.9,288.8 774.2,288.8 772.0,288.7 769.8,288.7 767.9,288.6 766.7,288.5 765.9,288.4 765.4,288.3 765.0,288.2 764.6,288.1 764.6,284.8 764.6,284.8 764.7,283.3 765.1,281.9 765.8,280.5 766.7,279.2 767.8,278.0 769.1,277.1 770.5,276.3 772.1,275.7 773.8,275.3 775.5,275.2 988.2,253.3 M985.6,262.9L987.2,260.1 989.5,256.2 992.1,251.6 994.9,246.5 997.7,241.2 1000.0,235.7 1002.1,230.1 1004.0,224.1 1005.9,217.9 1007.6,211.4 1009.3,205.0 1010.8,198.7 1012.3,192.4 1013.6,185.8 1014.9,179.3 1016.0,173.0 1017.1,167.0 1018.0,161.7 1018.9,156.9 1019.6,152.4 1020.3,148.3 1020.8,144.7 1021.3,141.7 1021.6,139.5 1021.6,265.6 1021.6,265.6 1021.6,267.8 1021.3,269.9 1020.9,271.9 1020.4,273.7 1019.7,275.3 1018.9,276.7 1018.1,277.8 1017.1,278.7 1016.1,279.2 1015.1,279.3 989.1,290.3 988.4,292.9 987.6,296.5 986.6,300.8 985.4,305.4 984.0,309.8 982.4,313.8 980.5,317.3 978.4,320.9 976.1,324.3 973.7,327.5 971.3,330.4 969.0,333.0 966.6,335.3 964.1,337.2 961.5,338.9 959.1,340.3 957.1,341.5 955.6,342.4 955.6,306.8 955.6,306.8 955.7,301.6 956.1,296.6 956.6,291.8 957.3,287.4 958.2,283.5 959.2,280.1 960.4,277.4 961.6,275.5 963.0,274.3 964.3,273.9 988.2,254.7 M985.6,262.9L988.1,260.4 991.6,257.0 995.7,252.9 1000.0,248.3 1004.2,243.6 1007.8,238.8 1011.0,233.8 1014.0,228.4 1016.9,222.9 1019.6,217.1 1022.1,211.4 1024.5,205.9 1026.7,200.2 1028.8,194.4 1030.7,188.6 1032.5,182.9 1034.1,177.7 1035.6,173.0 1036.9,168.7 1038.1,164.7 1039.1,161.0 1039.9,157.8 1040.6,155.2 1041.2,153.2 1041.2,267.0 1041.2,267.0 1041.1,268.7 1040.7,270.4 1040.2,272.0 1039.5,273.4 1038.6,274.8 1037.6,275.9 1036.4,276.8 1035.2,277.4 1033.8,277.8 1032.5,278.0 989.1,290.3 988.1,292.4 986.9,295.2 985.4,298.6 983.7,302.2 981.6,305.7 979.3,308.8 976.7,311.6 973.6,314.4 970.2,317.1 966.7,319.7 963.3,322.0 959.9,324.0 956.4,325.8 952.7,327.4 949.0,328.7 945.5,329.8 942.6,330.7 940.4,331.4 940.4,304.0 940.4,304.0 940.6,298.9 941.1,293.9 941.9,289.1 942.9,284.7 944.3,280.8 945.8,277.4 947.6,274.7 949.4,272.7 951.4,271.5 953.5,271.1 988.2,254.7 M985.6,262.9L988.7,260.9 993.1,258.3 998.2,255.1 1003.6,251.6 1008.8,247.9 1013.4,244.2 1017.3,240.3 1021.1,236.2 1024.7,231.9 1028.0,227.4 1031.2,223.0 1034.2,218.7 1037.0,214.3 1039.6,209.8 1042.0,205.3 1044.3,200.9 1046.3,196.8 1048.1,193.2 1049.8,189.9 1051.2,186.8 1052.5,183.9 1053.5,181.5 1054.4,179.4 1055.1,177.9 1055.1,265.6 1055.1,265.6 1055.0,267.3 1054.6,269.0 1054.1,270.6 1053.4,272.1 1052.5,273.4 1051.5,274.5 1050.3,275.4 1049.1,276.1 1047.7,276.5 1046.4,276.6 989.1,290.3 987.7,292.2 985.8,294.9 983.6,298.1 981.0,301.4 977.9,304.7 974.5,307.6 970.5,310.2 965.8,312.8 960.8,315.3 955.6,317.7 950.3,319.9 945.3,321.8 940.1,323.4 934.5,324.9 928.9,326.1 923.7,327.2 919.3,328.0 916.1,328.7 916.1,302.6 916.1,302.6 916.3,297.5 917.0,292.5 918.0,287.7 919.5,283.3 921.2,279.4 923.3,276.0 925.6,273.3 928.1,271.4 930.8,270.2 933.5,269.7 988.2,254.7 M985.6,262.9L989.6,261.5 995.2,259.6 1001.7,257.3 1008.7,254.8 1015.4,252.1 1021.2,249.4 1026.3,246.7 1031.1,243.7 1035.7,240.6 1040.0,237.4 1044.1,234.2 1047.9,231.1 1051.5,228.0 1054.8,224.7 1057.9,221.5 1060.8,218.3 1063.3,215.4 1065.7,212.7 1067.8,210.4 1069.7,208.1 1071.3,206.1 1072.6,204.3 1073.7,202.9 1074.6,201.7 1074.6,267.0 1074.6,267.0 1074.5,268.7 1074.2,270.4 1073.7,272.0 1072.9,273.4 1072.1,274.8 1071.0,275.9 1069.9,276.8 1068.6,277.4 1067.3,277.8 1065.9,278.0 989.1,290.3 987.3,291.8 985.0,293.9 982.3,296.4 979.0,299.0 975.2,301.6 970.9,303.9 965.9,305.9 960.2,308.0 953.9,310.0 947.4,311.8 940.9,313.5 934.6,315.0 928.2,316.3 921.2,317.5 914.2,318.5 907.7,319.3 902.3,319.9 898.3,320.5 898.3,301.3 898.3,301.3 898.6,296.1 899.4,291.1 900.7,286.3 902.5,281.9 904.7,278.0 907.3,274.7 910.2,272.0 913.3,270.0 916.6,268.8 920.0,268.4 988.2,254.7 M985.6,262.9L990.3,261.8 997.0,260.4 1004.8,258.6 1013.1,256.7 1021.0,254.7 1028.0,252.6 1034.0,250.5 1039.7,248.2 1045.2,245.9 1050.3,243.5 1055.2,241.0 1059.8,238.7 1064.0,236.3 1068.0,233.8 1071.7,231.3 1075.1,228.9 1078.1,226.7 1080.9,224.7 1083.4,222.8 1085.6,221.1 1087.6,219.6 1089.2,218.2 1090.5,217.1 1091.5,216.3 1091.5,268.4 1091.5,268.4 1091.4,270.1 1091.1,271.8 1090.6,273.4 1089.9,274.8 1089.0,276.1 1088.0,277.2 1086.8,278.1 1085.5,278.8 1084.2,279.2 1082.8,279.3 989.1,290.3 987.0,291.8 984.3,293.9 981.1,296.4 977.2,299.0 972.8,301.6 967.7,303.9 961.8,305.9 955.1,308.0 947.7,310.0 940.0,311.8 932.4,313.5 925.0,315.0 917.4,316.3 909.2,317.5 901.0,318.5 893.3,319.3 886.9,319.9 882.3,320.5 882.3,299.9 882.3,299.9 882.5,294.8 883.3,289.7 884.6,285.0 886.4,280.6 888.6,276.6 891.2,273.3 894.1,270.6 897.3,268.6 900.6,267.4 904.0,267.0 988.2,254.7 M985.6,262.9L991.5,262.5 999.8,261.9 1009.5,261.2 1019.8,260.5 1029.7,259.7 1038.4,258.9 1045.9,258.1 1053.1,257.2 1059.8,256.3 1066.3,255.3 1072.3,254.4 1078.0,253.5 1083.3,252.5 1088.2,251.6 1092.8,250.6 1097.0,249.7 1100.9,248.8 1104.4,248.1 1107.5,247.3 1110.2,246.7 1112.6,246.1 1114.6,245.6 1116.3,245.1 1117.6,244.8 1117.6,272.5 1117.6,272.5 1117.5,274.2 1117.2,275.9 1116.6,277.5 1115.9,278.9 1115.0,280.2 1114.0,281.4 1112.8,282.3 1111.6,282.9 1110.3,283.3 1108.9,283.5 989.1,290.3 986.5,291.4 983.1,292.9 979.0,294.7 974.2,296.7 968.6,298.5 962.3,300.2 955.0,301.7 946.5,303.2 937.3,304.6 927.7,306.0 918.1,307.2 908.8,308.3 899.3,309.2 889.0,310.1 878.8,310.8 869.2,311.4 861.2,311.9 855.4,312.2 855.4,297.2 855.4,297.2 855.7,292.0 856.8,287.0 858.7,282.2 861.2,277.8 864.3,273.9 867.9,270.5 871.9,267.8 876.4,265.9 881.0,264.7 885.7,264.3 988.2,254.7 M985.6,262.9L993.5,262.7 1004.6,262.5 1017.6,262.3 1031.4,262.0 1044.7,261.7 1056.3,261.4 1066.3,261.1 1075.9,260.8 1085.0,260.5 1093.6,260.1 1101.7,259.8 1109.3,259.5 1116.4,259.1 1123.0,258.8 1129.2,258.4 1134.8,258.1 1140.0,257.8 1144.6,257.5 1148.8,257.2 1152.5,257.0 1155.7,256.8 1158.4,256.6 1160.6,256.4 1162.3,256.3 1162.3,280.4 1162.3,280.4 1162.2,281.7 1161.9,283.0 1161.4,284.2 1160.6,285.3 1159.8,286.3 1158.7,287.1 1157.6,287.8 1156.3,288.3 1155.0,288.6 1153.6,288.7 989.1,290.3 985.6,291.4 981.2,292.9 975.7,294.7 969.3,296.7 961.9,298.5 953.5,300.2 943.7,301.7 932.4,303.2 920.1,304.6 907.3,306.0 894.5,307.2 882.3,308.3 869.6,309.2 855.9,310.1 842.2,310.8 829.5,311.4 818.8,311.9 811.1,312.2 811.1,295.8 811.1,295.8 811.5,291.5 812.8,287.3 814.9,283.3 817.7,279.7 821.2,276.4 825.4,273.6 830.0,271.4 835.1,269.7 840.4,268.7 845.8,268.4 988.2,254.7 M985.6,262.9L995.4,262.8 1009.2,262.7 1025.5,262.6 1042.7,262.5 1059.2,262.4 1073.6,262.3 1086.2,262.2 1098.1,262.0 1109.4,261.9 1120.1,261.7 1130.2,261.6 1139.7,261.5 1148.5,261.3 1156.8,261.2 1164.4,261.0 1171.5,260.9 1177.9,260.8 1183.7,260.6 1188.9,260.5 1193.5,260.4 1197.5,260.3 1200.8,260.3 1203.6,260.2 1205.7,260.1 1205.7,278.0 1205.7,278.0 1205.6,279.3 1205.3,280.5 1204.8,281.7 1204.1,282.8 1203.2,283.8 1202.1,284.6 1201.0,285.3 1199.7,285.8 1198.4,286.1 1197.0,286.2 989.1,290.3 979.8,290.2 967.4,290.0 952.4,289.8 935.8,289.6 918.1,289.4 900.1,289.2 879.8,289.1 856.4,289.1 832.0,289.0 808.7,289.0 788.7,289.0 774.2,288.9 766.1,288.9 762.9,288.9 763.0,288.9 764.9,288.9 767.0,288.9 767.7,288.9 767.7,282.1 767.7,282.1 767.8,280.8 768.3,279.5 769.1,278.3 770.1,277.2 771.5,276.3 773.0,275.4 774.8,274.8 776.7,274.3 778.6,274.0 780.7,273.9 988.2,254.7 M985.6,262.9L987.4,258.5 989.9,252.5 992.8,245.4 996.0,237.7 999.2,229.9 1002.1,222.6 1004.9,215.5 1007.8,208.3 1010.6,200.9 1013.4,193.6 1016.1,186.5 1018.7,179.6 1021.2,172.7 1023.7,165.8 1026.1,158.9 1028.4,152.5 1030.5,146.8 1032.5,142.0 1034.3,138.2 1035.9,135.2 1037.5,132.9 1038.8,131.1 1039.9,129.7 1040.7,128.5 1040.7,267.0 1040.7,267.0 1040.6,268.7 1040.3,270.4 1039.8,272.0 1039.1,273.4 1038.2,274.8 1037.2,275.9 1036.0,276.8 1034.7,277.4 1033.4,277.8 1032.1,278.0 989.1,290.3 988.1,292.5 986.9,295.6 985.4,299.2 983.7,303.0 981.6,306.7 979.3,310.1 976.7,313.1 973.6,316.0 970.2,318.9 966.7,321.6 963.3,324.1 959.9,326.3 956.4,328.2 952.7,329.8 949.0,331.2 945.5,332.4 942.6,333.4 940.4,334.2 940.4,306.8 940.4,306.8 940.6,301.6 941.1,296.6 941.9,291.8 942.9,287.4 944.3,283.5 945.8,280.1 947.6,277.4 949.4,275.5 951.4,274.3 953.5,273.9 988.2,254.7 M985.6,262.9L987.9,259.8 991.0,255.5 994.7,250.4 998.6,244.8 1002.6,239.2 1006.3,233.7 1009.8,228.4 1013.3,222.8 1016.9,217.2 1020.4,211.5 1023.8,205.9 1027.0,200.4 1030.2,194.8 1033.3,189.0 1036.3,183.3 1039.2,177.9 1041.8,173.1 1044.3,169.1 1046.5,166.1 1048.6,163.7 1050.5,162.0 1052.2,160.6 1053.6,159.6 1054.6,158.7 1054.6,265.6 1054.6,265.6 1054.5,267.3 1054.2,269.0 1053.7,270.6 1053.0,272.1 1052.1,273.4 1051.0,274.5 1049.9,275.4 1048.6,276.1 1047.3,276.5 1045.9,276.6 989.1,290.3 987.7,292.4 985.8,295.2 983.6,298.6 981.0,302.2 977.9,305.7 974.5,308.8 970.5,311.6 965.8,314.4 960.8,317.1 955.6,319.7 950.3,322.0 945.3,324.0 940.1,325.8 934.5,327.4 928.9,328.7 923.7,329.8 919.3,330.7 916.1,331.4 916.1,305.4 916.1,305.4 916.3,300.2 917.0,295.2 918.0,290.5 919.5,286.1 921.2,282.1 923.3,278.8 925.6,276.1 928.1,274.1 930.8,272.9 933.5,272.5 988.2,254.7 M985.6,262.9L989.0,260.8 993.8,258.1 999.4,254.7 1005.4,251.1 1011.3,247.3 1016.6,243.7 1021.4,240.1 1026.0,236.4 1030.5,232.6 1034.9,228.7 1039.1,224.7 1043.2,220.7 1047.0,216.4 1050.8,211.8 1054.3,207.1 1057.7,202.7 1060.8,198.6 1063.5,195.3 1066.0,192.8 1068.2,190.7 1070.1,189.1 1071.8,187.9 1073.1,186.9 1074.2,186.1 1074.2,267.0 1074.2,267.0 1074.1,268.7 1073.7,270.4 1073.2,272.0 1072.5,273.4 1071.6,274.8 1070.6,275.9 1069.4,276.8 1068.2,277.4 1066.8,277.8 1065.5,278.0 989.1,290.3 987.3,292.2 985.0,294.9 982.3,298.1 979.0,301.4 975.2,304.7 970.9,307.6 965.9,310.2 960.2,312.8 953.9,315.3 947.4,317.7 940.9,319.9 934.6,321.8 928.2,323.4 921.2,324.9 914.2,326.1 907.7,327.2 902.3,328.0 898.3,328.7 898.3,304.0 898.3,304.0 898.6,298.9 899.4,293.9 900.7,289.1 902.5,284.7 904.7,280.8 907.3,277.4 910.2,274.7 913.3,272.7 916.6,271.5 920.0,271.1 988.2,254.7 M985.6,262.9L990.3,261.4 996.9,259.3 1004.7,256.8 1012.9,254.0 1020.9,251.2 1027.8,248.5 1033.8,245.8 1039.5,243.0 1044.9,240.1 1050.1,237.2 1054.9,234.2 1059.4,231.2 1063.7,228.0 1067.7,224.6 1071.3,221.1 1074.7,217.7 1077.8,214.7 1080.5,212.2 1083.0,210.3 1085.2,208.8 1087.1,207.6 1088.8,206.7 1090.1,205.9 1091.1,205.3 1091.1,268.4 1091.1,268.4 1091.0,270.1 1090.7,271.8 1090.1,273.4 1089.4,274.8 1088.6,276.1 1087.5,277.2 1086.4,278.1 1085.1,278.8 1083.8,279.2 1082.4,279.3 989.1,290.3 987.0,292.2 984.3,294.9 981.1,298.1 977.2,301.4 972.8,304.7 967.7,307.6 961.8,310.2 955.1,312.8 947.7,315.3 940.0,317.7 932.4,319.9 925.0,321.8 917.4,323.4 909.2,324.9 901.0,326.1 893.3,327.2 886.9,328.0 882.3,328.7 882.3,301.3 882.3,301.3 882.6,296.1 883.5,291.1 885.1,286.3 887.2,281.9 889.9,278.0 893.0,274.7 896.5,272.0 900.3,270.0 904.2,268.8 908.3,268.4 988.2,254.7 M985.6,262.9L991.5,262.0 999.7,260.8 1009.4,259.3 1019.7,257.7 1029.6,256.1 1038.2,254.4 1045.7,252.8 1052.8,251.1 1059.6,249.4 1066.0,247.6 1072.0,245.7 1077.7,243.7 1083.0,241.5 1087.9,239.1 1092.5,236.7 1096.7,234.3 1100.5,232.1 1104.0,230.3 1107.1,228.8 1109.8,227.6 1112.2,226.5 1114.2,225.7 1115.9,225.0 1117.1,224.5 1117.1,272.5 1117.1,272.5 1117.0,274.2 1116.7,275.9 1116.2,277.5 1115.5,278.9 1114.6,280.2 1113.6,281.4 1112.4,282.3 1111.1,282.9 1109.8,283.3 1108.5,283.5 989.1,290.3 986.5,291.8 983.1,293.9 979.0,296.4 974.2,299.0 968.6,301.6 962.3,303.9 955.0,305.9 946.5,308.0 937.3,310.0 927.7,311.8 918.1,313.5 908.8,315.0 899.3,316.3 889.0,317.5 878.8,318.5 869.2,319.3 861.2,319.9 855.4,320.5 855.4,298.5 855.4,298.5 855.7,293.4 856.8,288.4 858.7,283.6 861.2,279.2 864.3,275.3 867.9,271.9 871.9,269.2 876.4,267.2 881.0,266.0 885.7,265.6 988.2,254.7 M985.6,262.9L993.5,262.5 1004.5,261.9 1017.5,261.3 1031.2,260.5 1044.4,259.8 1055.9,259.1 1065.9,258.3 1075.5,257.6 1084.5,256.8 1093.0,256.0 1101.1,255.2 1108.7,254.3 1115.8,253.2 1122.4,252.0 1128.5,250.8 1134.1,249.6 1139.2,248.5 1143.8,247.5 1148.0,246.7 1151.7,245.9 1154.8,245.2 1157.5,244.6 1159.7,244.1 1161.4,243.7 1161.4,279.3 1161.4,279.3 1161.3,280.6 1161.0,281.9 1160.5,283.1 1159.8,284.2 1158.9,285.2 1157.8,286.0 1156.7,286.7 1155.4,287.2 1154.1,287.5 1152.7,287.6 989.1,290.3 985.6,291.7 981.2,293.6 975.7,295.8 969.3,298.2 961.9,300.6 953.5,302.6 943.7,304.5 932.4,306.4 920.1,308.2 907.3,309.9 894.5,311.4 882.3,312.8 869.6,314.0 855.9,315.0 842.2,315.9 829.5,316.6 818.8,317.3 811.1,317.7 811.1,298.5 811.1,298.5 811.6,293.4 813.0,288.4 815.3,283.6 818.5,279.2 822.5,275.3 827.2,271.9 832.4,269.2 838.1,267.2 844.0,266.0 850.1,265.6 988.2,254.7 M989.1,293.1L943.5,298.5 878.4,302.6 834.9,304.0 808.9,306.8 792.8,305.4 792.8,291.7 782.0,291.7 769.0,290.9 764.6,288.9 763.3,285.4 764.6,281.5 769.8,278.0 778.5,275.2 787.2,273.6 819.8,271.1 878.4,267.8 943.5,262.9 986.9,258.8 M965.2,364.3L971.3,336.9 977.3,304.0 982.1,268.4 986.0,232.7 989.5,194.3 992.5,156.0 M966.9,364.3L973.0,336.9 979.1,304.0 983.9,268.4 987.8,232.7 991.2,194.3 994.3,156.0 M968.7,364.3L974.7,336.9 980.8,304.0 985.6,268.4 989.5,232.7 993.0,194.3 996.0,156.0 M970.4,364.3L976.5,336.9 982.6,304.0 987.3,268.4 991.2,232.7 994.7,194.3 997.8,156.0 M972.1,364.3L978.2,336.9 984.3,304.0 989.1,268.4 993.0,232.7 996.5,194.3 999.5,156.0" fill="none" stroke="#e63d2c" stroke-width="1.9" stroke-linejoin="round"/>
<path d="M1646.3,246.4L1646.8,243.9 1647.5,240.4 1648.3,236.2 1649.1,231.8 1650.0,227.6 1650.7,224.0 1651.3,220.9 1652.0,218.0 1652.6,215.2 1653.2,212.6 1653.7,210.2 1654.2,208.0 1654.5,206.0 1654.9,204.1 1655.2,202.4 1655.4,200.9 1655.6,199.6 1655.9,198.4 1656.1,197.5 1656.4,196.7 1656.6,196.2 1656.9,195.8 1657.1,195.5 1657.2,195.2 1657.2,235.2 1657.2,235.2 1657.0,241.5 1656.3,247.6 1655.2,253.4 1653.7,258.7 1651.9,263.5 1649.7,267.6 1647.2,270.8 1644.6,273.2 1641.8,274.7 1639.0,275.2 1639.0,265.0 1638.6,266.8 1638.0,269.3 1637.4,272.3 1636.7,275.5 1636.1,278.7 1635.5,281.6 1634.9,284.4 1634.4,287.3 1633.8,290.2 1633.3,293.0 1632.9,295.5 1632.5,297.6 1632.1,299.3 1631.8,300.7 1631.6,301.8 1631.4,302.7 1631.3,303.4 1631.2,304.0 1631.2,268.8 1631.2,268.8 1631.4,263.3 1632.3,257.9 1633.7,252.8 1635.5,248.1 1637.9,243.9 1640.6,240.3 1643.7,237.4 1647.0,235.3 1650.6,234.0 1654.2,233.6 1654.2,231.0 M1648.5,240.0L1649.3,237.2 1650.3,233.2 1651.5,228.6 1652.8,223.6 1654.0,218.8 1655.0,214.4 1655.8,210.4 1656.4,206.5 1657.0,202.6 1657.5,198.9 1658.0,195.3 1658.5,192.0 1659.1,188.8 1659.6,185.6 1660.2,182.6 1660.8,179.9 1661.2,177.7 1661.5,176.0 1661.5,225.6 1661.5,225.6 1661.3,233.4 1660.4,240.9 1659.1,248.1 1657.2,254.8 1654.9,260.7 1652.2,265.7 1649.2,269.8 1645.9,272.8 1642.5,274.6 1639.0,275.2 1639.0,265.0 1638.4,267.3 1637.5,270.5 1636.5,274.3 1635.5,278.6 1634.4,283.2 1633.3,288.0 1632.3,293.4 1631.1,299.7 1630.0,306.2 1628.9,312.7 1627.8,318.5 1626.8,323.2 1625.9,326.8 1625.0,329.6 1624.2,331.8 1623.5,333.5 1622.9,334.9 1622.5,336.0 1622.5,284.8 1622.5,284.8 1622.9,276.8 1624.0,269.0 1625.9,261.6 1628.5,254.7 1631.7,248.6 1635.5,243.4 1639.8,239.2 1644.4,236.1 1649.2,234.2 1654.2,233.6 1654.2,231.0 M1654.2,231.0L1654.4,230.8 1654.6,230.4 1654.9,230.0 1655.3,229.5 1655.6,228.8 1656.0,228.1 1656.3,227.2 1656.6,226.3 1656.9,225.2 1657.2,224.0 1657.5,222.8 1657.8,221.5 1658.1,220.1 1658.4,218.6 1658.7,217.0 1659.0,215.4 1659.3,213.7 1659.6,211.9 1659.9,210.0 1660.3,208.0 1660.6,205.9 1660.9,203.8 1661.2,201.8 1661.4,199.9 1661.7,198.2 1661.9,196.6 1662.1,195.1 1662.3,193.6 1662.5,192.1 1662.7,190.6 1662.9,189.0 1663.1,187.4 1663.3,185.8 1663.5,184.1 1663.7,182.3 1663.9,180.2 1664.1,177.8 1664.3,175.0 1664.5,172.0 1664.7,169.1 1664.9,166.4 1665.1,164.3 1665.2,162.7 1665.4,161.4 1665.5,160.5 1665.6,159.7 1665.7,159.1 1665.8,158.4 1665.9,157.9 1666.0,157.5 1666.1,157.3 1666.2,157.1 1666.3,156.9 1666.3,156.8 1666.3,216.0 1666.3,216.0 1666.0,225.3 1665.0,234.3 1663.3,242.9 1661.1,250.8 1658.3,257.9 1655.0,263.9 1651.4,268.7 1647.4,272.3 1643.2,274.5 1639.0,275.2 1639.0,265.0 1638.5,265.5 1637.9,266.1 1637.3,267.0 1636.5,267.9 1635.8,269.1 1635.1,270.3 1634.4,271.8 1633.8,273.4 1633.1,275.2 1632.5,277.1 1631.8,279.2 1631.2,281.3 1630.5,283.5 1629.8,285.8 1629.2,288.3 1628.5,290.8 1627.9,293.5 1627.2,296.2 1626.6,299.1 1625.9,302.2 1625.2,305.4 1624.5,308.5 1623.9,311.6 1623.3,314.4 1622.8,317.1 1622.3,319.6 1621.9,322.0 1621.5,324.3 1621.1,326.4 1620.7,328.3 1620.5,329.5 1620.3,330.2 1620.1,330.6 1620.0,331.4 1619.7,332.9 1619.4,335.6 1619.0,340.2 1618.4,346.4 1617.8,353.3 1617.2,360.2 1616.7,366.3 1616.2,370.8 1615.8,373.5 1615.4,375.0 1615.1,375.7 1614.8,375.9 1614.5,376.0 1614.2,376.3 1614.0,376.7 1613.7,376.9 1613.5,377.0 1613.2,377.0 1613.1,376.9 1612.9,377.0 1612.9,305.3 1612.9,305.3 1613.4,294.1 1614.9,283.1 1617.4,272.7 1620.8,263.1 1625.0,254.6 1629.9,247.3 1635.4,241.4 1641.4,237.1 1647.7,234.5 1654.2,233.6 1654.2,231.0 M1654.2,231.0L1654.5,230.6 1654.9,230.1 1655.5,229.4 1656.0,228.6 1656.6,227.6 1657.1,226.4 1657.6,225.1 1658.1,223.5 1658.6,221.8 1659.1,220.0 1659.6,218.1 1660.1,216.0 1660.6,213.8 1661.1,211.5 1661.6,209.1 1662.1,206.5 1662.6,203.8 1663.1,201.1 1663.6,198.1 1664.2,194.9 1664.7,191.6 1665.2,188.3 1665.7,185.1 1666.1,182.2 1666.5,179.5 1666.9,177.0 1667.2,174.7 1667.5,172.4 1667.8,170.0 1668.1,167.5 1668.5,165.0 1668.8,162.6 1669.1,160.1 1669.5,157.4 1669.8,154.6 1670.1,151.3 1670.5,147.5 1670.8,143.1 1671.2,138.4 1671.5,133.8 1671.8,129.7 1672.1,126.3 1672.4,123.8 1672.6,121.8 1672.8,120.3 1673.0,119.1 1673.2,118.1 1673.3,117.1 1673.5,116.3 1673.6,115.7 1673.8,115.3 1673.9,115.0 1674.0,114.8 1674.1,114.6 1674.1,198.4 1674.1,198.4 1673.7,210.4 1672.5,222.2 1670.6,233.3 1667.9,243.6 1664.6,252.7 1660.7,260.5 1656.3,266.8 1651.6,271.4 1646.6,274.3 1641.5,275.2 1639.0,265.0 1638.3,265.5 1637.3,266.1 1636.2,266.9 1635.0,267.9 1633.8,269.0 1632.6,270.2 1631.6,271.7 1630.5,273.3 1629.5,275.0 1628.4,276.9 1627.4,278.9 1626.3,281.0 1625.3,283.2 1624.2,285.5 1623.2,287.9 1622.1,290.4 1621.1,293.0 1620.0,295.6 1618.9,298.5 1617.8,301.5 1616.7,304.7 1615.7,307.8 1614.6,310.8 1613.7,313.6 1612.9,316.2 1612.1,318.7 1611.3,321.0 1610.7,323.3 1610.0,325.3 1609.5,327.2 1609.1,328.4 1608.8,329.1 1608.5,329.5 1608.2,330.2 1607.9,331.7 1607.4,334.4 1606.7,338.9 1605.8,345.0 1604.8,351.8 1603.8,358.6 1602.9,364.6 1602.1,368.9 1601.5,371.6 1600.9,373.1 1600.4,373.8 1599.9,374.0 1599.4,374.1 1599.0,374.4 1598.5,374.8 1598.1,375.0 1597.7,375.1 1597.4,375.1 1597.1,375.0 1596.9,375.0 1596.9,299.1 1596.9,299.1 1597.5,288.9 1599.2,278.9 1602.2,269.4 1606.1,260.6 1611.1,252.8 1616.9,246.1 1623.4,240.7 1630.4,236.8 1637.8,234.4 1645.4,233.6 1654.2,231.0 M1654.2,231.0L1654.8,230.5 1655.6,229.8 1656.6,228.9 1657.7,227.9 1658.8,226.6 1659.8,225.1 1660.7,223.4 1661.6,221.5 1662.5,219.3 1663.5,217.0 1664.4,214.5 1665.3,211.9 1666.3,209.1 1667.2,206.1 1668.1,203.0 1669.1,199.8 1670.0,196.4 1670.9,192.8 1671.9,189.0 1672.9,185.0 1673.9,180.8 1674.8,176.6 1675.7,172.5 1676.5,168.7 1677.3,165.3 1677.9,162.2 1678.5,159.2 1679.1,156.2 1679.7,153.2 1680.3,150.1 1680.9,146.9 1681.5,143.8 1682.1,140.6 1682.8,137.2 1683.4,133.5 1684.0,129.4 1684.7,124.5 1685.3,118.9 1686.0,112.9 1686.6,107.1 1687.2,101.8 1687.7,97.6 1688.2,94.3 1688.6,91.8 1689.0,89.9 1689.3,88.4 1689.7,87.1 1690.0,85.8 1690.3,84.8 1690.6,84.0 1690.9,83.5 1691.1,83.1 1691.3,82.8 1691.5,82.6 1691.5,199.5 1691.5,199.5 1691.0,211.3 1689.6,222.9 1687.4,233.9 1684.3,244.0 1680.5,253.0 1676.0,260.7 1671.0,266.9 1665.6,271.5 1659.9,274.3 1654.0,275.2 1639.0,265.0 1637.9,265.4 1636.3,266.1 1634.5,266.8 1632.6,267.7 1630.7,268.8 1628.9,270.0 1627.2,271.3 1625.5,272.8 1623.8,274.5 1622.1,276.3 1620.5,278.2 1618.8,280.2 1617.1,282.2 1615.4,284.4 1613.7,286.7 1612.1,289.0 1610.4,291.5 1608.7,294.0 1607.0,296.7 1605.2,299.6 1603.4,302.6 1601.7,305.6 1600.1,308.4 1598.6,311.0 1597.2,313.5 1596.0,315.9 1594.8,318.1 1593.7,320.2 1592.8,322.2 1591.9,323.9 1591.2,325.1 1590.7,325.7 1590.3,326.1 1589.9,326.8 1589.3,328.2 1588.5,330.8 1587.4,335.1 1586.0,340.8 1584.4,347.3 1582.8,353.7 1581.4,359.3 1580.1,363.5 1579.0,366.0 1578.1,367.4 1577.3,368.1 1576.5,368.3 1575.8,368.4 1575.1,368.7 1574.4,369.1 1573.7,369.3 1573.1,369.3 1572.5,369.3 1572.0,369.3 1571.7,369.3 1571.7,289.9 1571.7,289.9 1572.3,281.1 1574.2,272.5 1577.3,264.4 1581.6,256.8 1586.9,250.1 1593.0,244.4 1600.0,239.7 1607.5,236.4 1615.4,234.3 1623.5,233.6 1654.2,231.0 M1654.2,231.0L1655.1,230.4 1656.5,229.6 1658.1,228.6 1659.8,227.4 1661.5,226.0 1663.1,224.3 1664.6,222.4 1666.1,220.2 1667.6,217.7 1669.1,215.0 1670.6,212.2 1672.1,209.2 1673.6,206.1 1675.1,202.7 1676.6,199.2 1678.1,195.5 1679.6,191.6 1681.1,187.6 1682.6,183.3 1684.2,178.6 1685.8,173.8 1687.3,169.0 1688.8,164.4 1690.1,160.1 1691.3,156.3 1692.3,152.7 1693.3,149.3 1694.2,145.9 1695.1,142.5 1696.1,138.9 1697.1,135.3 1698.1,131.7 1699.1,128.1 1700.1,124.3 1701.1,120.1 1702.1,115.4 1703.1,109.8 1704.2,103.4 1705.2,96.6 1706.2,90.0 1707.2,84.0 1708.1,79.1 1708.8,75.5 1709.5,72.6 1710.1,70.4 1710.6,68.7 1711.1,67.2 1711.6,65.8 1712.1,64.6 1712.6,63.7 1713.1,63.1 1713.5,62.7 1713.8,62.4 1714.0,62.1 1714.0,211.9 1714.0,211.9 1713.6,221.8 1712.2,231.4 1709.9,240.6 1706.9,249.1 1703.0,256.7 1698.5,263.1 1693.5,268.3 1688.0,272.1 1682.3,274.4 1676.4,275.2 1639.0,265.0 1637.6,265.4 1635.7,265.9 1633.4,266.5 1630.9,267.3 1628.5,268.2 1626.2,269.2 1624.1,270.4 1621.9,271.6 1619.8,273.0 1617.7,274.6 1615.6,276.2 1613.4,277.8 1611.3,279.6 1609.2,281.4 1607.1,283.3 1604.9,285.3 1602.8,287.4 1600.7,289.6 1598.5,291.9 1596.3,294.3 1594.0,296.8 1591.9,299.3 1589.8,301.7 1587.9,304.0 1586.2,306.0 1584.6,308.0 1583.1,310.0 1581.8,311.7 1580.5,313.4 1579.4,314.9 1578.5,315.9 1577.9,316.4 1577.4,316.7 1576.9,317.3 1576.2,318.5 1575.2,320.7 1573.7,324.3 1571.9,329.2 1570.0,334.6 1568.0,340.1 1566.1,344.9 1564.5,348.4 1563.2,350.5 1562.0,351.7 1560.9,352.3 1560.0,352.5 1559.0,352.6 1558.2,352.8 1557.3,353.1 1556.4,353.3 1555.6,353.3 1554.9,353.3 1554.3,353.3 1553.9,353.3 1553.9,282.9 1553.9,282.9 1554.5,275.2 1556.3,267.7 1559.2,260.5 1563.2,253.9 1568.1,248.0 1573.9,243.0 1580.4,239.0 1587.5,236.0 1594.9,234.2 1602.5,233.6 1654.2,231.0 M1654.2,231.0L1655.3,230.5 1657.0,229.8 1659.0,229.0 1661.1,227.9 1663.2,226.7 1665.2,225.2 1667.0,223.5 1668.8,221.6 1670.7,219.5 1672.5,217.2 1674.3,214.8 1676.2,212.2 1678.0,209.5 1679.8,206.6 1681.7,203.5 1683.5,200.3 1685.3,197.0 1687.2,193.5 1689.0,189.8 1691.0,185.8 1692.9,181.6 1694.8,177.5 1696.5,173.5 1698.2,169.8 1699.6,166.5 1700.9,163.4 1702.1,160.4 1703.2,157.5 1704.3,154.6 1705.5,151.5 1706.7,148.3 1707.9,145.3 1709.2,142.1 1710.4,138.8 1711.6,135.2 1712.8,131.2 1714.1,126.4 1715.4,120.8 1716.7,115.0 1717.9,109.2 1719.1,104.1 1720.2,99.9 1721.1,96.7 1721.9,94.2 1722.6,92.3 1723.3,90.8 1723.9,89.6 1724.6,88.3 1725.2,87.3 1725.8,86.5 1726.3,86.0 1726.8,85.6 1727.2,85.4 1727.5,85.1 1727.5,220.4 1727.5,220.4 1727.0,228.9 1725.6,237.3 1723.3,245.3 1720.2,252.6 1716.3,259.1 1711.7,264.7 1706.6,269.2 1701.1,272.5 1695.3,274.5 1689.3,275.2 1639.0,265.0 1637.3,265.3 1634.9,265.7 1632.2,266.3 1629.2,266.9 1626.2,267.7 1623.5,268.5 1620.9,269.5 1618.3,270.6 1615.7,271.8 1613.1,273.0 1610.6,274.4 1608.0,275.8 1605.4,277.2 1602.8,278.8 1600.2,280.4 1597.6,282.1 1595.1,283.8 1592.5,285.7 1589.8,287.6 1587.1,289.6 1584.4,291.7 1581.8,293.8 1579.3,295.9 1577.0,297.7 1574.9,299.5 1573.0,301.2 1571.2,302.8 1569.5,304.3 1568.0,305.7 1566.7,306.9 1565.6,307.8 1564.8,308.2 1564.2,308.5 1563.6,309.0 1562.7,310.0 1561.5,311.8 1559.7,314.9 1557.6,318.9 1555.2,323.5 1552.8,328.1 1550.5,332.1 1548.6,335.1 1547.0,336.9 1545.5,337.9 1544.2,338.4 1543.0,338.5 1541.9,338.6 1540.8,338.8 1539.8,339.1 1538.7,339.2 1537.8,339.2 1536.9,339.2 1536.2,339.2 1535.7,339.2 1535.7,280.0 1535.7,280.0 1536.3,272.7 1538.1,265.7 1541.0,258.9 1545.1,252.7 1550.1,247.2 1556.0,242.5 1562.5,238.7 1569.7,235.9 1577.2,234.2 1584.9,233.6 1654.2,231.0 M1654.2,231.0L1655.6,230.5 1657.7,229.8 1660.1,229.0 1662.7,228.0 1665.3,226.8 1667.8,225.4 1670.0,223.8 1672.3,222.0 1674.6,219.9 1676.8,217.7 1679.1,215.3 1681.4,212.9 1683.6,210.2 1685.9,207.4 1688.2,204.5 1690.4,201.4 1692.7,198.2 1695.0,194.8 1697.3,191.2 1699.7,187.4 1702.1,183.4 1704.4,179.4 1706.6,175.5 1708.6,172.0 1710.3,168.7 1711.9,165.7 1713.4,162.9 1714.8,160.1 1716.2,157.3 1717.6,154.3 1719.2,151.2 1720.7,148.3 1722.2,145.3 1723.7,142.1 1725.2,138.6 1726.7,134.7 1728.3,130.0 1729.9,124.7 1731.5,119.0 1733.0,113.5 1734.5,108.5 1735.8,104.5 1736.9,101.4 1737.9,99.0 1738.8,97.2 1739.7,95.8 1740.5,94.5 1741.2,93.4 1742.0,92.3 1742.7,91.6 1743.4,91.1 1744.0,90.8 1744.5,90.5 1744.9,90.2 1744.9,225.6 1744.9,225.6 1744.4,233.4 1743.0,240.9 1740.7,248.1 1737.5,254.8 1733.6,260.7 1729.0,265.7 1723.9,269.8 1718.4,272.8 1712.5,274.6 1706.5,275.2 1639.0,265.0 1636.8,265.2 1633.9,265.6 1630.4,266.0 1626.7,266.5 1623.0,267.1 1619.5,267.8 1616.3,268.6 1613.0,269.5 1609.8,270.4 1606.5,271.4 1603.3,272.5 1600.0,273.6 1596.8,274.8 1593.5,276.0 1590.3,277.3 1587.1,278.7 1583.8,280.1 1580.6,281.5 1577.2,283.1 1573.8,284.7 1570.4,286.4 1567.1,288.1 1564.0,289.7 1561.1,291.2 1558.5,292.6 1556.1,294.0 1553.8,295.3 1551.7,296.5 1549.8,297.6 1548.1,298.6 1546.8,299.3 1545.8,299.6 1545.1,299.9 1544.3,300.2 1543.2,301.1 1541.6,302.5 1539.4,305.0 1536.7,308.2 1533.7,311.9 1530.7,315.6 1527.9,318.8 1525.4,321.2 1523.4,322.6 1521.6,323.4 1519.9,323.8 1518.4,323.9 1517.0,324.0 1515.7,324.2 1514.3,324.4 1513.0,324.5 1511.8,324.5 1510.8,324.5 1509.9,324.5 1509.2,324.5 1509.2,278.5 1509.2,278.5 1509.8,271.4 1511.7,264.6 1514.7,258.1 1518.8,252.1 1523.9,246.7 1530.0,242.2 1536.7,238.5 1544.0,235.8 1551.7,234.2 1559.5,233.6 1654.2,231.0 M1654.2,231.0L1656.0,230.6 1658.6,230.0 1661.7,229.3 1665.1,228.4 1668.4,227.4 1671.5,226.2 1674.4,224.7 1677.2,223.1 1680.1,221.3 1683.0,219.4 1685.9,217.3 1688.8,215.2 1691.7,212.9 1694.6,210.4 1697.4,207.9 1700.3,205.2 1703.2,202.3 1706.1,199.4 1709.1,196.3 1712.1,192.9 1715.1,189.4 1718.1,185.9 1720.9,182.6 1723.4,179.5 1725.7,176.7 1727.7,174.1 1729.6,171.6 1731.3,169.1 1733.1,166.6 1735.0,164.0 1736.9,161.4 1738.8,158.8 1740.7,156.2 1742.7,153.4 1744.6,150.4 1746.5,147.0 1748.5,142.9 1750.5,138.2 1752.6,133.3 1754.5,128.5 1756.4,124.1 1758.1,120.6 1759.5,117.9 1760.8,115.8 1761.9,114.2 1763.0,113.0 1764.0,111.9 1765.0,110.9 1765.9,110.0 1766.9,109.4 1767.7,108.9 1768.5,108.6 1769.1,108.4 1769.6,108.2 1769.6,230.4 1769.6,230.4 1769.1,237.4 1767.7,244.2 1765.4,250.7 1762.3,256.7 1758.4,262.1 1753.8,266.6 1748.7,270.3 1743.1,273.0 1737.3,274.6 1731.3,275.2 1639.0,265.0 1636.1,265.2 1632.2,265.4 1627.5,265.7 1622.4,266.1 1617.4,266.5 1612.7,267.0 1608.4,267.5 1604.0,268.1 1599.6,268.8 1595.2,269.5 1590.9,270.2 1586.5,271.0 1582.1,271.8 1577.7,272.7 1573.4,273.6 1569.0,274.6 1564.6,275.5 1560.3,276.6 1555.8,277.6 1551.2,278.8 1546.6,280.0 1542.1,281.1 1537.9,282.3 1534.0,283.3 1530.5,284.3 1527.2,285.3 1524.2,286.2 1521.4,287.0 1518.8,287.8 1516.5,288.5 1514.7,288.9 1513.5,289.2 1512.4,289.3 1511.3,289.6 1509.9,290.2 1507.8,291.2 1504.8,292.9 1501.1,295.2 1497.1,297.8 1493.0,300.3 1489.2,302.6 1485.9,304.3 1483.2,305.3 1480.7,305.8 1478.5,306.1 1476.5,306.2 1474.6,306.2 1472.8,306.3 1471.0,306.5 1469.2,306.6 1467.6,306.6 1466.2,306.6 1465.0,306.6 1464.1,306.6 1464.1,269.4 1464.1,269.4 1464.7,262.4 1466.7,255.6 1469.9,249.1 1474.3,243.1 1479.7,237.8 1486.1,233.2 1493.2,229.5 1500.9,226.8 1509.1,225.2 1517.4,224.6 1654.2,231.0 M1654.2,231.0L1661.3,230.4 1671.4,229.5 1683.3,228.5 1695.6,227.3 1707.3,225.8 1717.1,224.0 1725.0,222.0 1732.1,219.7 1738.5,217.2 1744.4,214.4 1749.8,211.3 1754.8,208.0 1759.5,204.3 1763.6,200.1 1767.2,195.6 1770.5,191.1 1773.6,186.6 1776.5,182.4 1779.2,178.4 1781.5,174.4 1783.6,170.5 1785.5,166.7 1787.5,163.2 1789.6,160.0 1791.8,157.0 1794.0,154.3 1796.2,151.8 1798.4,149.5 1800.5,147.5 1802.6,145.9 1804.7,144.7 1806.9,143.9 1809.0,143.4 1811.0,143.1 1812.7,142.9 1813.9,142.7 1813.9,236.8 1813.9,236.8 1813.4,242.8 1812.0,248.7 1809.6,254.2 1806.4,259.4 1802.4,264.0 1797.8,267.9 1792.5,271.0 1786.9,273.3 1780.9,274.7 1774.8,275.2 1639.0,265.0 1635.4,265.1 1630.5,265.2 1624.7,265.3 1618.5,265.5 1612.3,265.7 1606.5,265.9 1601.1,266.2 1595.6,266.5 1590.2,266.8 1584.8,267.2 1579.4,267.6 1574.0,267.9 1568.6,268.3 1563.2,268.8 1557.7,269.2 1552.3,269.7 1546.9,270.2 1541.5,270.7 1536.0,271.2 1530.3,271.8 1524.6,272.3 1519.0,272.9 1513.8,273.5 1509.0,274.0 1504.7,274.5 1500.6,275.0 1496.8,275.4 1493.4,275.8 1490.2,276.2 1487.4,276.5 1485.1,276.8 1483.6,276.9 1482.3,277.0 1480.9,277.1 1479.2,277.4 1476.5,277.9 1472.8,278.7 1468.3,279.8 1463.3,281.1 1458.3,282.4 1453.5,283.5 1449.5,284.3 1446.1,284.8 1443.0,285.1 1440.3,285.2 1437.8,285.3 1435.5,285.3 1433.2,285.3 1431.0,285.4 1428.8,285.4 1426.8,285.4 1425.0,285.4 1423.5,285.4 1422.4,285.4 1422.4,240.0 1422.4,240.0 1422.8,235.0 1424.1,230.1 1426.2,225.5 1429.0,221.2 1432.6,217.4 1436.7,214.1 1441.4,211.5 1446.4,209.6 1451.7,208.4 1457.1,208.0 1636.1,208.6 M1654.2,231.0L1661.1,230.6 1670.8,230.0 1682.2,229.4 1694.4,228.6 1706.3,227.6 1717.1,226.6 1726.9,225.3 1736.5,224.0 1746.0,222.4 1755.1,220.8 1763.9,219.2 1772.2,217.6 1780.1,216.0 1787.6,214.4 1794.7,212.7 1801.5,211.0 1807.9,209.2 1813.9,207.4 1819.5,205.4 1824.8,203.2 1829.7,201.0 1834.1,198.9 1838.2,196.9 1841.6,195.2 1844.5,193.8 1846.7,192.5 1848.4,191.4 1849.8,190.4 1851.1,189.6 1852.5,188.8 1853.9,188.1 1855.2,187.6 1856.4,187.1 1857.5,186.8 1858.3,186.5 1859.0,186.2 1859.0,237.4 1859.0,237.4 1858.4,244.4 1856.7,251.3 1853.8,257.8 1849.9,263.8 1845.0,269.1 1839.3,273.7 1832.9,277.4 1826.0,280.0 1818.7,281.7 1811.3,282.2 1639.0,265.0 1636.1,265.1 1632.2,265.3 1627.5,265.5 1622.4,265.8 1617.4,266.2 1612.7,266.5 1608.4,267.0 1604.0,267.4 1599.6,267.9 1595.2,268.5 1590.9,269.1 1586.5,269.7 1582.1,270.4 1577.7,271.0 1573.4,271.8 1569.0,272.5 1564.6,273.3 1560.3,274.1 1555.8,274.9 1551.2,275.8 1546.6,276.7 1542.1,277.7 1537.9,278.6 1534.0,279.4 1530.5,280.1 1527.2,280.9 1524.2,281.6 1521.4,282.2 1518.8,282.9 1516.5,283.4 1514.7,283.8 1513.5,284.0 1512.4,284.1 1511.3,284.3 1509.9,284.8 1507.8,285.6 1504.8,286.9 1501.1,288.7 1497.1,290.7 1493.0,292.7 1489.2,294.5 1485.9,295.8 1483.2,296.6 1480.7,297.0 1478.5,297.2 1476.5,297.3 1474.6,297.3 1472.8,297.4 1471.0,297.5 1469.2,297.6 1467.6,297.6 1466.2,297.6 1465.0,297.6 1464.1,297.6 1464.1,269.4 1464.1,269.4 1464.7,262.4 1466.7,255.6 1469.9,249.1 1474.3,243.1 1479.7,237.8 1486.1,233.2 1493.2,229.5 1500.9,226.8 1509.1,225.2 1517.4,224.6 1654.2,231.0 M1654.2,231.0L1654.6,229.9 1655.3,228.3 1656.1,226.5 1657.0,224.4 1657.8,222.2 1658.6,220.0 1659.2,217.8 1659.9,215.3 1660.5,212.8 1661.2,210.2 1661.8,207.4 1662.3,204.6 1662.9,201.6 1663.4,198.2 1663.9,194.8 1664.4,191.5 1664.9,188.5 1665.2,185.9 1665.5,183.8 1665.8,182.1 1666.0,180.7 1666.1,179.5 1666.2,178.5 1666.4,177.7 1666.5,177.0 1666.6,176.6 1666.6,176.3 1666.7,176.2 1666.7,176.1 1666.7,176.0 1666.7,224.0 1666.7,224.0 1666.4,231.5 1665.4,238.8 1663.7,245.8 1661.4,252.2 1658.6,257.9 1655.3,262.8 1651.6,266.8 1647.5,269.7 1643.3,271.4 1639.0,272.0 1639.0,265.0 1638.1,266.9 1636.9,269.5 1635.5,272.6 1634.0,276.0 1632.5,279.5 1631.2,283.0 1629.8,286.4 1628.5,289.9 1627.2,293.4 1625.8,297.2 1624.6,301.2 1623.3,305.6 1622.1,310.5 1620.9,316.0 1619.8,321.8 1618.7,327.5 1617.7,332.7 1616.8,337.2 1616.1,340.8 1615.5,343.9 1615.1,346.6 1614.6,348.9 1614.3,350.9 1614.0,352.5 1613.7,353.7 1613.4,354.4 1613.3,354.8 1613.1,355.0 1613.0,355.1 1612.9,355.2 1612.9,294.4 1612.9,294.4 1613.4,284.9 1614.9,275.6 1617.4,266.8 1620.8,258.7 1625.0,251.4 1629.9,245.2 1635.4,240.2 1641.4,236.6 1647.7,234.3 1654.2,233.6 1654.2,231.0 M1654.2,231.0L1654.9,229.2 1656.0,226.8 1657.3,223.9 1658.7,220.6 1660.1,217.1 1661.3,213.6 1662.4,210.0 1663.5,206.2 1664.5,202.2 1665.5,198.0 1666.5,193.7 1667.4,189.3 1668.3,184.4 1669.2,179.2 1670.0,173.8 1670.8,168.5 1671.5,163.7 1672.1,159.7 1672.6,156.4 1673.0,153.7 1673.3,151.5 1673.5,149.6 1673.7,148.0 1673.9,146.6 1674.1,145.5 1674.3,144.9 1674.4,144.5 1674.4,144.3 1674.5,144.2 1674.5,144.0 1674.5,211.8 1674.5,211.8 1674.2,221.3 1673.1,230.4 1671.2,239.2 1668.7,247.2 1665.6,254.4 1662.0,260.5 1657.9,265.4 1653.5,269.1 1648.9,271.3 1644.1,272.0 1639.0,265.0 1637.6,266.9 1635.7,269.5 1633.4,272.6 1631.0,276.0 1628.6,279.5 1626.3,283.0 1624.2,286.4 1622.0,289.9 1619.9,293.4 1617.8,297.2 1615.7,301.2 1613.7,305.6 1611.8,310.5 1609.8,316.0 1607.9,321.8 1606.2,327.5 1604.6,332.7 1603.2,337.2 1602.0,340.8 1601.1,343.9 1600.3,346.6 1599.7,348.9 1599.1,350.9 1598.5,352.5 1598.1,353.7 1597.7,354.4 1597.4,354.8 1597.2,355.0 1597.0,355.1 1596.9,355.2 1596.9,289.6 1596.9,289.6 1597.4,280.8 1599.0,272.3 1601.7,264.2 1605.3,256.7 1609.8,250.0 1615.1,244.3 1621.0,239.7 1627.4,236.3 1634.1,234.3 1641.0,233.6 1654.2,231.0 M1654.2,231.0L1655.6,228.6 1657.6,225.2 1660.1,221.2 1662.6,216.8 1665.1,212.0 1667.4,207.2 1669.4,202.3 1671.4,197.1 1673.3,191.6 1675.2,185.9 1677.0,180.0 1678.7,173.9 1680.4,167.3 1682.0,160.1 1683.5,152.7 1685.0,145.5 1686.3,138.9 1687.4,133.4 1688.3,129.0 1689.0,125.3 1689.6,122.2 1690.0,119.6 1690.4,117.5 1690.8,115.6 1691.1,114.1 1691.4,113.2 1691.6,112.7 1691.7,112.4 1691.8,112.2 1691.9,112.0 1691.9,209.6 1691.9,209.6 1691.5,219.4 1690.2,228.9 1688.2,237.9 1685.4,246.3 1682.0,253.7 1677.9,260.1 1673.4,265.2 1668.4,268.9 1663.3,271.2 1657.9,272.0 1639.0,265.0 1636.8,266.7 1633.7,269.2 1630.1,272.0 1626.3,275.2 1622.4,278.5 1618.8,281.7 1615.4,284.9 1611.9,288.1 1608.5,291.4 1605.1,294.9 1601.8,298.7 1598.6,302.7 1595.5,307.3 1592.4,312.4 1589.4,317.8 1586.6,323.1 1584.0,327.9 1581.8,332.0 1579.9,335.4 1578.4,338.3 1577.2,340.8 1576.2,343.0 1575.2,344.8 1574.4,346.3 1573.6,347.4 1573.0,348.1 1572.6,348.4 1572.2,348.6 1571.9,348.7 1571.7,348.8 1571.7,283.5 1571.7,283.5 1572.3,275.7 1573.9,268.1 1576.7,260.9 1580.4,254.2 1585.1,248.2 1590.5,243.1 1596.6,239.0 1603.2,236.0 1610.2,234.2 1617.3,233.6 1654.2,231.0 M1654.2,231.0L1656.5,228.7 1659.7,225.6 1663.6,221.9 1667.7,217.7 1671.7,213.3 1675.3,208.8 1678.5,204.2 1681.7,199.3 1684.8,194.2 1687.8,188.8 1690.6,183.3 1693.4,177.6 1696.0,171.4 1698.6,164.7 1701.1,157.8 1703.4,151.0 1705.5,144.9 1707.2,139.7 1708.7,135.6 1709.8,132.1 1710.7,129.2 1711.4,126.8 1712.1,124.8 1712.7,123.0 1713.2,121.7 1713.6,120.8 1713.9,120.3 1714.1,120.1 1714.3,119.9 1714.5,119.7 1714.5,217.8 1714.5,217.8 1714.0,226.3 1712.6,234.5 1710.3,242.4 1707.2,249.7 1703.4,256.1 1698.9,261.6 1693.8,266.1 1688.3,269.3 1682.5,271.3 1676.6,272.0 1639.0,265.0 1636.2,266.5 1632.3,268.5 1627.8,271.0 1622.9,273.6 1618.0,276.4 1613.4,279.2 1609.1,281.8 1604.8,284.6 1600.4,287.4 1596.1,290.4 1591.9,293.5 1587.9,296.9 1584.0,300.8 1580.1,305.2 1576.3,309.7 1572.7,314.2 1569.5,318.3 1566.7,321.8 1564.3,324.7 1562.4,327.1 1560.9,329.3 1559.5,331.1 1558.4,332.6 1557.3,333.9 1556.3,334.8 1555.6,335.4 1555.0,335.7 1554.6,335.8 1554.2,335.9 1553.9,336.0 1553.9,280.3 1553.9,280.3 1554.5,273.0 1556.3,265.9 1559.2,259.1 1563.2,252.9 1568.1,247.3 1573.9,242.5 1580.4,238.7 1587.5,235.9 1594.9,234.2 1602.5,233.6 1654.2,231.0 M1654.2,231.0L1657.0,228.8 1661.0,225.8 1665.7,222.3 1670.7,218.3 1675.6,214.1 1680.0,209.8 1683.9,205.4 1687.8,200.7 1691.6,195.8 1695.3,190.7 1698.8,185.5 1702.1,180.0 1705.4,174.2 1708.5,167.7 1711.6,161.1 1714.4,154.7 1716.9,148.8 1719.1,143.9 1720.8,140.0 1722.2,136.6 1723.3,133.9 1724.2,131.6 1725.0,129.7 1725.7,128.0 1726.4,126.7 1726.9,125.9 1727.2,125.4 1727.5,125.2 1727.7,125.0 1727.9,124.8 1727.9,224.3 1727.9,224.3 1727.5,232.3 1726.1,240.0 1723.7,247.4 1720.6,254.2 1716.7,260.3 1712.1,265.5 1707.0,269.7 1701.4,272.7 1695.5,274.6 1689.5,275.2 1639.0,265.0 1635.6,266.2 1630.9,267.9 1625.4,269.9 1619.5,272.1 1613.5,274.4 1608.0,276.6 1602.8,278.8 1597.5,281.0 1592.2,283.3 1586.9,285.8 1581.9,288.4 1577.0,291.2 1572.2,294.3 1567.5,297.9 1562.8,301.7 1558.5,305.3 1554.6,308.7 1551.2,311.6 1548.3,313.9 1546.0,315.9 1544.1,317.7 1542.5,319.1 1541.1,320.4 1539.8,321.5 1538.6,322.2 1537.7,322.7 1537.0,322.9 1536.5,323.0 1536.0,323.1 1535.7,323.2 1535.7,278.4 1535.7,278.4 1536.3,271.4 1538.1,264.6 1541.0,258.1 1545.1,252.1 1550.1,246.7 1556.0,242.2 1562.5,238.5 1569.7,235.8 1577.2,234.2 1584.9,233.6 1654.2,231.0 M1654.2,231.0L1657.7,229.0 1662.6,226.2 1668.4,222.8 1674.6,219.1 1680.6,215.1 1686.1,211.1 1690.9,206.9 1695.7,202.6 1700.4,198.0 1704.9,193.2 1709.3,188.2 1713.4,183.1 1717.4,177.6 1721.3,171.5 1725.1,165.3 1728.5,159.3 1731.7,153.8 1734.4,149.2 1736.5,145.4 1738.2,142.3 1739.6,139.7 1740.7,137.6 1741.7,135.8 1742.6,134.2 1743.4,133.0 1744.0,132.2 1744.4,131.8 1744.8,131.5 1745.1,131.4 1745.3,131.2 1745.3,230.4 1745.3,230.4 1744.9,237.4 1743.8,244.2 1741.9,250.7 1739.4,256.7 1736.2,262.1 1732.5,266.6 1728.4,270.3 1723.9,273.0 1719.2,274.6 1714.3,275.2 1639.0,265.0 1634.7,265.9 1628.9,267.2 1621.9,268.8 1614.5,270.5 1607.0,272.3 1600.0,274.0 1593.5,275.8 1586.8,277.5 1580.2,279.3 1573.6,281.2 1567.2,283.2 1561.1,285.4 1555.1,287.9 1549.1,290.7 1543.3,293.6 1537.9,296.4 1532.9,299.1 1528.7,301.3 1525.1,303.1 1522.2,304.7 1519.8,306.1 1517.8,307.2 1516.0,308.2 1514.4,309.0 1512.9,309.6 1511.8,310.0 1510.9,310.2 1510.2,310.3 1509.7,310.3 1509.2,310.4 1509.2,278.4 1509.2,278.4 1509.7,271.4 1511.1,264.6 1513.5,258.1 1516.8,252.1 1520.9,246.7 1525.6,242.2 1530.9,238.5 1536.7,235.8 1542.8,234.2 1549.0,233.6 1654.2,231.0 M1654.2,231.0L1658.6,229.4 1664.9,227.1 1672.3,224.4 1680.1,221.4 1687.8,218.2 1694.7,214.9 1700.9,211.6 1707.0,208.0 1713.0,204.3 1718.7,200.5 1724.2,196.5 1729.5,192.3 1734.6,187.9 1739.6,183.0 1744.3,178.0 1748.7,173.1 1752.7,168.7 1756.1,164.9 1758.9,161.9 1761.1,159.4 1762.8,157.3 1764.2,155.6 1765.4,154.1 1766.6,152.8 1767.6,151.8 1768.4,151.2 1768.9,150.9 1769.4,150.7 1769.7,150.6 1770.0,150.4 1770.0,233.6 1770.0,233.6 1769.6,240.6 1768.2,247.4 1765.8,253.9 1762.7,259.9 1758.8,265.3 1754.2,269.8 1749.1,273.5 1743.5,276.2 1737.6,277.8 1731.6,278.4 1639.0,265.0 1633.3,265.7 1625.4,266.6 1616.0,267.7 1605.9,268.9 1595.8,270.2 1586.5,271.5 1577.6,272.7 1568.7,274.0 1559.7,275.3 1550.9,276.6 1542.3,278.1 1534.0,279.6 1525.9,281.4 1517.9,283.4 1510.1,285.5 1502.7,287.6 1496.1,289.5 1490.3,291.1 1485.5,292.4 1481.6,293.5 1478.4,294.5 1475.7,295.3 1473.3,296.0 1471.1,296.6 1469.1,297.1 1467.6,297.3 1466.4,297.5 1465.4,297.5 1464.7,297.5 1464.1,297.6 1464.1,272.0 1464.1,272.0 1464.7,265.0 1466.7,258.2 1469.9,251.7 1474.3,245.7 1479.7,240.3 1486.1,235.8 1493.2,232.1 1500.9,229.4 1509.1,227.8 1517.4,227.2 1654.2,231.0 M1654.2,231.0L1660.3,230.3 1669.0,229.4 1679.2,228.3 1690.0,227.0 1700.7,225.7 1710.2,224.4 1718.8,223.0 1727.2,221.5 1735.4,220.0 1743.4,218.4 1751.0,216.8 1758.2,215.1 1765.3,213.2 1772.2,211.2 1778.8,209.1 1784.9,207.1 1790.4,205.3 1795.1,203.8 1798.9,202.5 1801.9,201.5 1804.3,200.6 1806.2,199.9 1807.9,199.3 1809.5,198.8 1810.9,198.3 1812.0,198.1 1812.8,197.9 1813.4,197.9 1813.9,197.8 1814.3,197.8 1814.3,243.2 1814.3,243.2 1813.8,249.2 1812.4,255.1 1810.0,260.6 1806.8,265.8 1802.9,270.4 1798.2,274.3 1793.0,277.4 1787.3,279.7 1781.3,281.1 1775.2,281.6 1639.0,265.0 1631.9,265.3 1622.1,265.8 1610.5,266.4 1598.1,267.0 1585.6,267.6 1574.0,268.3 1563.0,268.9 1551.9,269.6 1540.8,270.2 1529.9,270.9 1519.2,271.6 1509.0,272.4 1499.0,273.4 1489.1,274.4 1479.4,275.4 1470.3,276.5 1462.0,277.5 1454.9,278.3 1449.0,278.9 1444.1,279.5 1440.1,280.0 1436.8,280.4 1433.8,280.8 1431.1,281.1 1428.6,281.3 1426.7,281.5 1425.2,281.5 1424.1,281.6 1423.2,281.6 1422.4,281.6 1422.4,256.0 1422.4,256.0 1422.8,251.0 1424.1,246.1 1426.2,241.5 1429.0,237.2 1432.6,233.4 1436.7,230.1 1441.4,227.5 1446.4,225.6 1451.7,224.4 1457.1,224.0 1654.2,231.0 M1654.2,231.0L1655.0,228.9 1656.1,226.0 1657.4,222.5 1658.8,218.7 1660.2,214.6 1661.4,210.4 1662.6,206.2 1663.7,201.7 1664.7,196.9 1665.8,192.0 1666.7,186.8 1667.7,181.6 1668.6,175.9 1669.5,169.6 1670.4,163.2 1671.2,157.0 1671.9,151.3 1672.5,146.5 1673.0,142.7 1673.4,139.5 1673.7,136.8 1673.9,134.6 1674.2,132.7 1674.4,131.1 1674.5,129.8 1674.7,129.0 1674.8,128.6 1674.9,128.3 1674.9,128.2 1675.0,128.0 1675.0,205.4 1675.0,205.4 1674.6,215.9 1673.5,226.0 1671.6,235.7 1669.1,244.6 1666.0,252.5 1662.3,259.3 1658.2,264.7 1653.7,268.7 1649.0,271.2 1644.2,272.0 1639.0,265.0 1637.6,267.1 1635.6,270.0 1633.3,273.4 1630.8,277.2 1628.4,281.1 1626.1,284.9 1623.9,288.7 1621.7,292.5 1619.5,296.5 1617.3,300.6 1615.2,305.1 1613.2,309.9 1611.2,315.3 1609.2,321.5 1607.3,327.9 1605.5,334.1 1603.9,339.9 1602.4,344.8 1601.3,348.9 1600.3,352.3 1599.5,355.3 1598.8,357.8 1598.3,360.0 1597.7,361.8 1597.2,363.1 1596.9,363.9 1596.6,364.4 1596.3,364.5 1596.1,364.6 1596.0,364.8 1596.0,293.0 1596.0,293.0 1596.5,283.7 1598.2,274.6 1600.9,266.0 1604.6,258.1 1609.1,251.0 1614.5,244.9 1620.5,240.1 1627.0,236.5 1633.8,234.3 1640.8,233.6 1654.2,231.0 M1654.2,231.0L1655.6,228.2 1657.7,224.4 1660.1,219.9 1662.7,214.8 1665.2,209.5 1667.5,204.0 1669.6,198.4 1671.6,192.5 1673.5,186.3 1675.4,179.8 1677.2,173.1 1679.0,166.2 1680.7,158.7 1682.3,150.6 1683.9,142.2 1685.3,134.0 1686.6,126.6 1687.8,120.3 1688.7,115.3 1689.4,111.1 1690.0,107.6 1690.4,104.7 1690.8,102.2 1691.2,100.1 1691.5,98.4 1691.8,97.4 1692.0,96.8 1692.1,96.5 1692.2,96.3 1692.3,96.0 1692.3,205.6 1692.3,205.6 1691.9,216.0 1690.7,226.1 1688.6,235.7 1685.8,244.6 1682.3,252.6 1678.2,259.3 1673.6,264.8 1668.7,268.8 1663.5,271.2 1658.1,272.0 1639.0,265.0 1636.7,266.9 1633.7,269.6 1630.0,272.8 1626.1,276.4 1622.2,280.0 1618.5,283.6 1615.1,287.2 1611.6,290.7 1608.1,294.5 1604.6,298.4 1601.3,302.5 1598.1,307.0 1594.9,312.1 1591.8,317.8 1588.8,323.8 1585.9,329.7 1583.3,335.1 1581.0,339.7 1579.2,343.5 1577.7,346.7 1576.4,349.5 1575.3,351.9 1574.4,353.9 1573.5,355.6 1572.8,356.9 1572.2,357.6 1571.7,358.0 1571.4,358.2 1571.1,358.2 1570.8,358.4 1570.8,285.4 1570.8,285.4 1571.4,277.3 1573.1,269.4 1575.9,261.9 1579.6,255.0 1584.3,248.8 1589.8,243.5 1596.0,239.3 1602.7,236.1 1609.7,234.2 1617.0,233.6 1654.2,231.0 M1654.2,231.0L1656.5,228.0 1659.8,224.0 1663.6,219.1 1667.8,213.7 1671.8,207.9 1675.4,202.1 1678.7,196.1 1681.9,189.8 1685.0,183.1 1688.0,176.2 1690.9,169.0 1693.6,161.6 1696.3,153.6 1698.9,144.8 1701.4,135.8 1703.8,127.1 1705.8,119.1 1707.6,112.4 1709.1,107.0 1710.2,102.5 1711.1,98.8 1711.9,95.7 1712.5,93.0 1713.1,90.7 1713.6,89.0 1714.0,87.8 1714.3,87.2 1714.6,86.9 1714.8,86.7 1714.9,86.4 1714.9,212.8 1714.9,212.8 1714.4,222.1 1713.0,231.1 1710.8,239.7 1707.6,247.6 1703.8,254.7 1699.2,260.7 1694.1,265.5 1688.6,269.1 1682.8,271.3 1676.8,272.0 1639.0,265.0 1636.2,266.7 1632.3,269.0 1627.7,271.8 1622.7,274.8 1617.8,278.0 1613.2,281.1 1608.8,284.1 1604.4,287.2 1600.0,290.4 1595.7,293.8 1591.5,297.4 1587.4,301.2 1583.4,305.7 1579.5,310.6 1575.6,315.8 1572.0,320.8 1568.8,325.5 1565.9,329.5 1563.6,332.7 1561.7,335.5 1560.1,337.9 1558.7,340.0 1557.6,341.7 1556.5,343.2 1555.5,344.3 1554.7,344.9 1554.2,345.2 1553.7,345.4 1553.3,345.5 1553.0,345.6 1553.0,281.8 1553.0,281.8 1553.6,274.2 1555.4,266.9 1558.4,259.9 1562.4,253.5 1567.4,247.7 1573.2,242.8 1579.8,238.8 1586.9,236.0 1594.4,234.2 1602.1,233.6 1654.2,231.0 M1654.2,231.0L1657.0,228.4 1661.0,224.8 1665.7,220.4 1670.8,215.6 1675.7,210.5 1680.1,205.3 1684.1,200.0 1688.0,194.4 1691.8,188.4 1695.5,182.3 1699.0,175.9 1702.4,169.3 1705.7,162.2 1708.9,154.4 1711.9,146.4 1714.7,138.6 1717.3,131.5 1719.5,125.6 1721.2,120.7 1722.6,116.7 1723.7,113.4 1724.6,110.6 1725.4,108.3 1726.1,106.3 1726.8,104.7 1727.3,103.7 1727.7,103.1 1728.0,102.8 1728.2,102.6 1728.4,102.4 1728.4,219.2 1728.4,219.2 1727.9,227.5 1726.5,235.5 1724.2,243.2 1721.0,250.2 1717.1,256.5 1712.5,261.9 1707.3,266.2 1701.7,269.4 1695.8,271.3 1689.8,272.0 1639.0,265.0 1635.6,266.4 1630.9,268.3 1625.3,270.5 1619.3,273.0 1613.3,275.6 1607.7,278.1 1602.4,280.6 1597.1,283.1 1591.8,285.8 1586.5,288.5 1581.4,291.5 1576.5,294.6 1571.7,298.2 1566.9,302.3 1562.2,306.5 1557.8,310.6 1553.9,314.5 1550.4,317.7 1547.6,320.4 1545.3,322.7 1543.3,324.6 1541.7,326.3 1540.3,327.7 1539.0,328.9 1537.8,329.8 1536.9,330.3 1536.2,330.6 1535.6,330.7 1535.2,330.8 1534.8,330.9 1534.8,279.2 1534.8,279.2 1535.4,272.0 1537.2,265.1 1540.2,258.5 1544.3,252.4 1549.3,246.9 1555.2,242.3 1561.9,238.6 1569.1,235.8 1576.6,234.2 1584.4,233.6 1654.2,231.0 M1654.2,231.0L1657.7,228.6 1662.6,225.2 1668.5,221.2 1674.7,216.8 1680.8,212.0 1686.2,207.2 1691.1,202.3 1695.9,197.1 1700.6,191.6 1705.2,185.9 1709.5,180.0 1713.7,173.9 1717.7,167.3 1721.6,160.1 1725.4,152.7 1728.9,145.5 1732.0,138.9 1734.7,133.4 1736.9,129.0 1738.6,125.3 1740.0,122.2 1741.1,119.6 1742.1,117.5 1743.0,115.6 1743.8,114.1 1744.4,113.2 1744.9,112.7 1745.2,112.4 1745.5,112.2 1745.7,112.0 1745.7,226.7 1745.7,226.7 1745.2,234.3 1743.8,241.7 1741.5,248.7 1738.3,255.2 1734.4,261.0 1729.8,265.9 1724.6,269.9 1719.0,272.8 1713.1,274.6 1707.0,275.2 1639.0,265.0 1634.7,266.1 1628.8,267.6 1621.8,269.3 1614.3,271.3 1606.8,273.3 1599.8,275.3 1593.2,277.3 1586.5,279.3 1579.8,281.3 1573.2,283.5 1566.7,285.8 1560.6,288.3 1554.5,291.1 1548.5,294.3 1542.7,297.6 1537.2,300.9 1532.2,303.9 1527.9,306.4 1524.4,308.5 1521.4,310.3 1519.0,311.9 1517.0,313.2 1515.2,314.3 1513.6,315.2 1512.1,315.9 1510.9,316.4 1510.0,316.6 1509.3,316.7 1508.8,316.7 1508.3,316.8 1508.3,278.1 1508.3,278.1 1509.0,271.1 1510.8,264.3 1513.9,257.9 1518.0,251.9 1523.2,246.6 1529.2,242.1 1536.0,238.4 1543.3,235.8 1551.1,234.1 1559.0,233.6 1654.2,231.0 M1654.2,231.0L1658.6,228.9 1664.9,226.0 1672.3,222.5 1680.2,218.7 1687.9,214.6 1694.9,210.4 1701.1,206.2 1707.2,201.7 1713.2,196.9 1718.9,192.0 1724.5,186.8 1729.8,181.6 1734.9,175.9 1739.9,169.6 1744.7,163.2 1749.1,157.0 1753.1,151.3 1756.5,146.5 1759.3,142.7 1761.5,139.5 1763.2,136.8 1764.6,134.6 1765.8,132.7 1767.0,131.1 1768.0,129.8 1768.8,129.0 1769.4,128.6 1769.8,128.3 1770.2,128.2 1770.5,128.0 1770.5,232.3 1770.5,232.3 1770.0,239.3 1768.6,246.2 1766.3,252.7 1763.1,258.7 1759.2,264.0 1754.6,268.6 1749.4,272.2 1743.8,274.9 1738.0,276.6 1731.9,277.1 1639.0,265.0 1633.2,265.8 1625.3,266.8 1615.9,268.1 1605.8,269.6 1595.6,271.1 1586.2,272.5 1577.3,273.9 1568.3,275.4 1559.3,276.9 1550.4,278.5 1541.8,280.1 1533.5,282.0 1525.4,284.0 1517.3,286.3 1509.4,288.7 1502.1,291.1 1495.4,293.3 1489.6,295.2 1484.8,296.7 1480.8,298.0 1477.6,299.1 1474.8,300.1 1472.4,300.9 1470.2,301.6 1468.3,302.1 1466.7,302.4 1465.5,302.6 1464.6,302.6 1463.8,302.7 1463.2,302.7 1463.2,270.7 1463.2,270.7 1463.9,263.7 1465.8,256.9 1469.0,250.4 1473.4,244.4 1478.9,239.0 1485.3,234.5 1492.5,230.8 1500.3,228.1 1508.4,226.5 1516.8,225.9 1654.2,231.0 M1636.1,208.6L1636.1,220.2 1646.3,225.9 1654.2,231.0" fill="none" stroke="#e63d2c" stroke-width="1.9" stroke-linejoin="round"/>
</svg>
</body></html>
